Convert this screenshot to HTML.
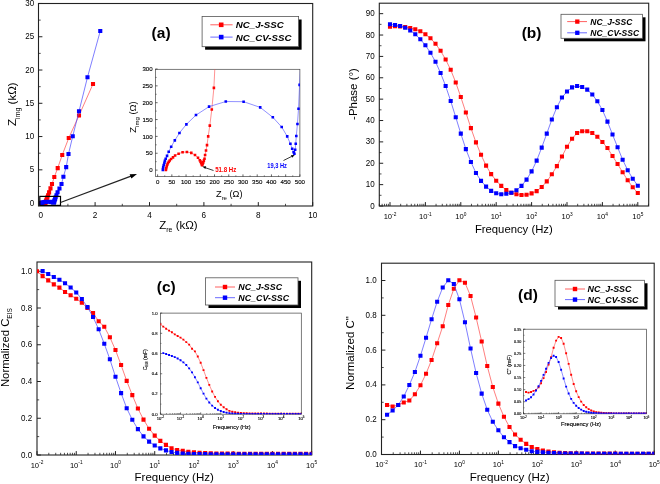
<!DOCTYPE html>
<html><head><meta charset="utf-8"><style>
html,body{margin:0;padding:0;background:#fff;width:660px;height:484px;overflow:hidden}
svg{display:block;will-change:transform}
text{font-family:"Liberation Sans", sans-serif}
.sm text{stroke:#000;stroke-width:0.13}
</style></head><body>
<svg width="660" height="484" viewBox="0 0 660 484" font-family='"Liberation Sans", sans-serif'>
<rect width="660" height="484" fill="#fff"/>
<defs>
<clipPath id="ca"><rect x="38.5" y="3.5" width="274.2" height="202.5"/></clipPath>
<clipPath id="cai"><rect x="155.4" y="69.3" width="144.5" height="107.3"/></clipPath>
<clipPath id="cb"><rect x="379.3" y="3.2" width="269.4" height="202.8"/></clipPath>
<clipPath id="cc"><rect x="37" y="262" width="274.7" height="193"/></clipPath>
<clipPath id="cci"><rect x="160.4" y="313.1" width="140.9" height="101.1"/></clipPath>
<clipPath id="cd"><rect x="381.5" y="263.2" width="272.7" height="191.3"/></clipPath>
<clipPath id="cdi"><rect x="523.5" y="329.2" width="122.9" height="84.6"/></clipPath>
</defs>
<rect x="38.5" y="3.5" width="274.2" height="202.5" fill="none" stroke="#222" stroke-width="1.1"/>
<line x1="38.5" y1="203.1" x2="42.4" y2="203.1" stroke="#222" stroke-width="1"/>
<text transform="translate(34.1,205.6) scale(0.88,1)" font-size="9.1" text-anchor="end" font-weight="normal" font-style="normal" fill="#000" >0</text>
<line x1="38.5" y1="169.83" x2="42.4" y2="169.83" stroke="#222" stroke-width="1"/>
<text transform="translate(34.1,172.33) scale(0.88,1)" font-size="9.1" text-anchor="end" font-weight="normal" font-style="normal" fill="#000" >5</text>
<line x1="38.5" y1="136.56" x2="42.4" y2="136.56" stroke="#222" stroke-width="1"/>
<text transform="translate(34.1,139.06) scale(0.88,1)" font-size="9.1" text-anchor="end" font-weight="normal" font-style="normal" fill="#000" >10</text>
<line x1="38.5" y1="103.29" x2="42.4" y2="103.29" stroke="#222" stroke-width="1"/>
<text transform="translate(34.1,105.79) scale(0.88,1)" font-size="9.1" text-anchor="end" font-weight="normal" font-style="normal" fill="#000" >15</text>
<line x1="38.5" y1="70.02" x2="42.4" y2="70.02" stroke="#222" stroke-width="1"/>
<text transform="translate(34.1,72.52) scale(0.88,1)" font-size="9.1" text-anchor="end" font-weight="normal" font-style="normal" fill="#000" >20</text>
<line x1="38.5" y1="36.75" x2="42.4" y2="36.75" stroke="#222" stroke-width="1"/>
<text transform="translate(34.1,39.25) scale(0.88,1)" font-size="9.1" text-anchor="end" font-weight="normal" font-style="normal" fill="#000" >25</text>
<line x1="38.5" y1="3.48" x2="42.4" y2="3.48" stroke="#222" stroke-width="1"/>
<text transform="translate(34.1,5.98) scale(0.88,1)" font-size="9.1" text-anchor="end" font-weight="normal" font-style="normal" fill="#000" >30</text>
<line x1="38.5" y1="186.47" x2="40.7" y2="186.47" stroke="#222" stroke-width="0.8"/>
<line x1="38.5" y1="153.19" x2="40.7" y2="153.19" stroke="#222" stroke-width="0.8"/>
<line x1="38.5" y1="119.92" x2="40.7" y2="119.92" stroke="#222" stroke-width="0.8"/>
<line x1="38.5" y1="86.66" x2="40.7" y2="86.66" stroke="#222" stroke-width="0.8"/>
<line x1="38.5" y1="53.38" x2="40.7" y2="53.38" stroke="#222" stroke-width="0.8"/>
<line x1="38.5" y1="20.12" x2="40.7" y2="20.12" stroke="#222" stroke-width="0.8"/>
<line x1="40.7" y1="206" x2="40.7" y2="202.1" stroke="#222" stroke-width="1"/>
<text transform="translate(40.7,217.6) scale(0.9,1)" font-size="9.1" text-anchor="middle" font-weight="normal" font-style="normal" fill="#000" >0</text>
<line x1="95.1" y1="206" x2="95.1" y2="202.1" stroke="#222" stroke-width="1"/>
<text transform="translate(95.1,217.6) scale(0.9,1)" font-size="9.1" text-anchor="middle" font-weight="normal" font-style="normal" fill="#000" >2</text>
<line x1="149.5" y1="206" x2="149.5" y2="202.1" stroke="#222" stroke-width="1"/>
<text transform="translate(149.5,217.6) scale(0.9,1)" font-size="9.1" text-anchor="middle" font-weight="normal" font-style="normal" fill="#000" >4</text>
<line x1="203.9" y1="206" x2="203.9" y2="202.1" stroke="#222" stroke-width="1"/>
<text transform="translate(203.9,217.6) scale(0.9,1)" font-size="9.1" text-anchor="middle" font-weight="normal" font-style="normal" fill="#000" >6</text>
<line x1="258.3" y1="206" x2="258.3" y2="202.1" stroke="#222" stroke-width="1"/>
<text transform="translate(258.3,217.6) scale(0.9,1)" font-size="9.1" text-anchor="middle" font-weight="normal" font-style="normal" fill="#000" >8</text>
<line x1="312.7" y1="206" x2="312.7" y2="202.1" stroke="#222" stroke-width="1"/>
<text transform="translate(312.7,217.6) scale(0.9,1)" font-size="9.1" text-anchor="middle" font-weight="normal" font-style="normal" fill="#000" >10</text>
<line x1="67.9" y1="206" x2="67.9" y2="203.8" stroke="#222" stroke-width="0.8"/>
<line x1="122.3" y1="206" x2="122.3" y2="203.8" stroke="#222" stroke-width="0.8"/>
<line x1="176.7" y1="206" x2="176.7" y2="203.8" stroke="#222" stroke-width="0.8"/>
<line x1="231.1" y1="206" x2="231.1" y2="203.8" stroke="#222" stroke-width="0.8"/>
<line x1="285.5" y1="206" x2="285.5" y2="203.8" stroke="#222" stroke-width="0.8"/>
<g clip-path="url(#ca)">
<polyline points="41.49,203.1 41.51,203.08 41.53,203.06 41.58,203.02 41.64,202.99 41.69,202.96 41.77,202.93 41.86,202.91 41.99,202.88 42.17,202.85 42.37,202.81 42.71,202.78 43.09,202.75 43.5,202.74 43.92,202.76 44.27,202.8 44.56,202.86 44.73,202.9 44.81,202.93 44.86,202.96 44.91,202.98 44.95,203 44.98,202.99 45.02,202.97 45.07,202.95 45.12,202.91 45.18,202.88 45.24,202.8 45.33,202.71 45.42,202.61 45.54,202.43 45.69,202.22 45.88,201.9 46.08,201.48 46.22,200.87 46.47,200.04 46.85,198.91 47.39,197.38 48.13,195.25 49.1,192.39 50.49,188.39 51.99,184 54.3,177.02 57.7,168.1 62.24,154.99 68.74,138.02 79,115.53 93.01,83.99" fill="none" stroke="#ff4848" stroke-width="0.7"/>
<path d="M39.44 201.05h4.1v4.1h-4.1zM39.46 201.03h4.1v4.1h-4.1zM39.48 201.01h4.1v4.1h-4.1zM39.53 200.97h4.1v4.1h-4.1zM39.59 200.94h4.1v4.1h-4.1zM39.64 200.91h4.1v4.1h-4.1zM39.72 200.88h4.1v4.1h-4.1zM39.81 200.86h4.1v4.1h-4.1zM39.94 200.83h4.1v4.1h-4.1zM40.12 200.8h4.1v4.1h-4.1zM40.32 200.76h4.1v4.1h-4.1zM40.66 200.73h4.1v4.1h-4.1zM41.04 200.7h4.1v4.1h-4.1zM41.45 200.69h4.1v4.1h-4.1zM41.87 200.71h4.1v4.1h-4.1zM42.22 200.75h4.1v4.1h-4.1zM42.51 200.81h4.1v4.1h-4.1zM42.68 200.85h4.1v4.1h-4.1zM42.76 200.88h4.1v4.1h-4.1zM42.81 200.91h4.1v4.1h-4.1zM42.86 200.93h4.1v4.1h-4.1zM42.9 200.95h4.1v4.1h-4.1zM42.93 200.94h4.1v4.1h-4.1zM42.97 200.92h4.1v4.1h-4.1zM43.02 200.9h4.1v4.1h-4.1zM43.07 200.86h4.1v4.1h-4.1zM43.13 200.83h4.1v4.1h-4.1zM43.19 200.75h4.1v4.1h-4.1zM43.28 200.66h4.1v4.1h-4.1zM43.37 200.56h4.1v4.1h-4.1zM43.49 200.38h4.1v4.1h-4.1zM43.64 200.17h4.1v4.1h-4.1zM43.83 199.85h4.1v4.1h-4.1zM44.03 199.43h4.1v4.1h-4.1zM44.17 198.82h4.1v4.1h-4.1zM44.42 197.99h4.1v4.1h-4.1zM44.8 196.86h4.1v4.1h-4.1zM45.34 195.33h4.1v4.1h-4.1zM46.08 193.2h4.1v4.1h-4.1zM47.05 190.34h4.1v4.1h-4.1zM48.44 186.34h4.1v4.1h-4.1zM49.94 181.95h4.1v4.1h-4.1zM52.25 174.97h4.1v4.1h-4.1zM55.65 166.05h4.1v4.1h-4.1zM60.19 152.94h4.1v4.1h-4.1zM66.69 135.97h4.1v4.1h-4.1zM76.95 113.48h4.1v4.1h-4.1zM90.96 81.94h4.1v4.1h-4.1z" fill="#ff0000"/>
</g>
<g clip-path="url(#ca)">
<polyline points="41.2,203.1 41.21,203.08 41.24,203.04 41.28,203 41.35,202.96 41.4,202.92 41.48,202.88 41.6,202.82 41.76,202.74 42,202.64 42.35,202.51 42.79,202.37 43.45,202.2 44.37,202.01 45.62,201.85 47.22,201.75 48.92,201.75 50.51,201.86 51.71,202.06 52.56,202.25 53.09,202.43 53.39,202.58 53.56,202.68 53.7,202.75 53.78,202.78 53.85,202.7 53.9,202.58 53.96,202.43 54.07,202.19 54.17,201.89 54.27,201.42 54.44,200.8 54.71,199.97 55.12,198.84 55.66,197.31 56.48,195.18 57.56,192.32 59.47,188.46 61.51,184 63.41,176.68 66.19,167.17 68.5,153.99 72.74,136.23 79,111.27 87.48,77.27 100.27,31.03" fill="none" stroke="#4848ff" stroke-width="0.7"/>
<path d="M39.15 201.05h4.1v4.1h-4.1zM39.16 201.03h4.1v4.1h-4.1zM39.19 200.99h4.1v4.1h-4.1zM39.23 200.95h4.1v4.1h-4.1zM39.3 200.91h4.1v4.1h-4.1zM39.35 200.87h4.1v4.1h-4.1zM39.43 200.83h4.1v4.1h-4.1zM39.55 200.77h4.1v4.1h-4.1zM39.71 200.69h4.1v4.1h-4.1zM39.95 200.59h4.1v4.1h-4.1zM40.3 200.46h4.1v4.1h-4.1zM40.74 200.32h4.1v4.1h-4.1zM41.4 200.15h4.1v4.1h-4.1zM42.32 199.96h4.1v4.1h-4.1zM43.57 199.8h4.1v4.1h-4.1zM45.17 199.7h4.1v4.1h-4.1zM46.87 199.7h4.1v4.1h-4.1zM48.46 199.81h4.1v4.1h-4.1zM49.66 200.01h4.1v4.1h-4.1zM50.51 200.2h4.1v4.1h-4.1zM51.04 200.38h4.1v4.1h-4.1zM51.34 200.53h4.1v4.1h-4.1zM51.51 200.63h4.1v4.1h-4.1zM51.65 200.7h4.1v4.1h-4.1zM51.73 200.73h4.1v4.1h-4.1zM51.8 200.65h4.1v4.1h-4.1zM51.85 200.53h4.1v4.1h-4.1zM51.91 200.38h4.1v4.1h-4.1zM52.02 200.14h4.1v4.1h-4.1zM52.12 199.84h4.1v4.1h-4.1zM52.22 199.37h4.1v4.1h-4.1zM52.39 198.75h4.1v4.1h-4.1zM52.66 197.92h4.1v4.1h-4.1zM53.07 196.79h4.1v4.1h-4.1zM53.61 195.26h4.1v4.1h-4.1zM54.43 193.13h4.1v4.1h-4.1zM55.51 190.27h4.1v4.1h-4.1zM57.42 186.41h4.1v4.1h-4.1zM59.46 181.95h4.1v4.1h-4.1zM61.36 174.63h4.1v4.1h-4.1zM64.14 165.12h4.1v4.1h-4.1zM66.45 151.94h4.1v4.1h-4.1zM70.69 134.18h4.1v4.1h-4.1zM76.95 109.22h4.1v4.1h-4.1zM85.43 75.22h4.1v4.1h-4.1zM98.22 28.98h4.1v4.1h-4.1z" fill="#0000ff"/>
</g>
<rect x="39.8" y="196.4" width="20.7" height="9" fill="none" stroke="#000" stroke-width="1.2"/>
<line x1="60.5" y1="202.5" x2="131" y2="176.1" stroke="#222" stroke-width="1.2"/>
<path d="M137 173.9 L129.6 174.2 L131.4 178.6 Z" fill="#000"/>
<text transform="translate(15.8,104.2) rotate(-90)" font-size="11.5" text-anchor="middle">Z<tspan font-size="7" dy="3.8">img</tspan><tspan dy="-3.8"> (k&#937;)</tspan></text>
<text x="159.2" y="228.6" font-size="11.5">Z<tspan font-size="7" dy="3.8">re</tspan><tspan dy="-3.8"> (k&#937;)</tspan></text>
<text x="161.1" y="38.2" font-size="15.5" text-anchor="middle" font-weight="bold" font-style="normal" fill="#000" >(a)</text>
<rect x="205.1" y="19.5" width="96.5" height="30.2" fill="#000"/>
<rect x="202.1" y="16.5" width="96.5" height="30.2" fill="#fff" stroke="#555" stroke-width="0.8"/>
<line x1="210.3" y1="24.8" x2="232.6" y2="24.8" stroke="#ff6060" stroke-width="1"/>
<rect x="218.9" y="22.5" width="4.6" height="4.6" fill="#f00"/>
<text x="235.8" y="28.29" font-size="9.7" font-weight="bold" font-style="italic">NC_J-SSC</text>
<line x1="210.3" y1="37.1" x2="232.6" y2="37.1" stroke="#6a6aff" stroke-width="1"/>
<rect x="218.9" y="34.8" width="4.6" height="4.6" fill="#00f"/>
<text x="235.8" y="40.59" font-size="9.7" font-weight="bold" font-style="italic">NC_CV-SSC</text>
<rect x="155.4" y="69.3" width="144.50" height="107.30" fill="#fff" stroke="#444" stroke-width="0.7"/>
<g class="sm">
<line x1="155.4" y1="170.1" x2="157.6" y2="170.1" stroke="#222" stroke-width="0.7"/>
<text x="152.6" y="172.3" font-size="6.1" text-anchor="end" font-weight="normal" font-style="normal" fill="#000" >0</text>
<line x1="155.4" y1="153.25" x2="157.6" y2="153.25" stroke="#222" stroke-width="0.7"/>
<text x="152.6" y="155.45" font-size="6.1" text-anchor="end" font-weight="normal" font-style="normal" fill="#000" >50</text>
<line x1="155.4" y1="136.4" x2="157.6" y2="136.4" stroke="#222" stroke-width="0.7"/>
<text x="152.6" y="138.6" font-size="6.1" text-anchor="end" font-weight="normal" font-style="normal" fill="#000" >100</text>
<line x1="155.4" y1="119.55" x2="157.6" y2="119.55" stroke="#222" stroke-width="0.7"/>
<text x="152.6" y="121.75" font-size="6.1" text-anchor="end" font-weight="normal" font-style="normal" fill="#000" >150</text>
<line x1="155.4" y1="102.7" x2="157.6" y2="102.7" stroke="#222" stroke-width="0.7"/>
<text x="152.6" y="104.9" font-size="6.1" text-anchor="end" font-weight="normal" font-style="normal" fill="#000" >200</text>
<line x1="155.4" y1="85.85" x2="157.6" y2="85.85" stroke="#222" stroke-width="0.7"/>
<text x="152.6" y="88.05" font-size="6.1" text-anchor="end" font-weight="normal" font-style="normal" fill="#000" >250</text>
<line x1="155.4" y1="69" x2="157.6" y2="69" stroke="#222" stroke-width="0.7"/>
<text x="152.6" y="71.2" font-size="6.1" text-anchor="end" font-weight="normal" font-style="normal" fill="#000" >300</text>
<line x1="155.4" y1="161.67" x2="156.7" y2="161.67" stroke="#222" stroke-width="0.5599999999999999"/>
<line x1="155.4" y1="144.82" x2="156.7" y2="144.82" stroke="#222" stroke-width="0.5599999999999999"/>
<line x1="155.4" y1="127.97" x2="156.7" y2="127.97" stroke="#222" stroke-width="0.5599999999999999"/>
<line x1="155.4" y1="111.12" x2="156.7" y2="111.12" stroke="#222" stroke-width="0.5599999999999999"/>
<line x1="155.4" y1="94.27" x2="156.7" y2="94.27" stroke="#222" stroke-width="0.5599999999999999"/>
<line x1="155.4" y1="77.42" x2="156.7" y2="77.42" stroke="#222" stroke-width="0.5599999999999999"/>
<line x1="157.6" y1="176.6" x2="157.6" y2="174.4" stroke="#222" stroke-width="0.7"/>
<text x="157.6" y="184.1" font-size="6.1" text-anchor="middle" font-weight="normal" font-style="normal" fill="#000" >0</text>
<line x1="171.83" y1="176.6" x2="171.83" y2="174.4" stroke="#222" stroke-width="0.7"/>
<text x="171.83" y="184.1" font-size="6.1" text-anchor="middle" font-weight="normal" font-style="normal" fill="#000" >50</text>
<line x1="186.06" y1="176.6" x2="186.06" y2="174.4" stroke="#222" stroke-width="0.7"/>
<text x="186.06" y="184.1" font-size="6.1" text-anchor="middle" font-weight="normal" font-style="normal" fill="#000" >100</text>
<line x1="200.29" y1="176.6" x2="200.29" y2="174.4" stroke="#222" stroke-width="0.7"/>
<text x="200.29" y="184.1" font-size="6.1" text-anchor="middle" font-weight="normal" font-style="normal" fill="#000" >150</text>
<line x1="214.52" y1="176.6" x2="214.52" y2="174.4" stroke="#222" stroke-width="0.7"/>
<text x="214.52" y="184.1" font-size="6.1" text-anchor="middle" font-weight="normal" font-style="normal" fill="#000" >200</text>
<line x1="228.75" y1="176.6" x2="228.75" y2="174.4" stroke="#222" stroke-width="0.7"/>
<text x="228.75" y="184.1" font-size="6.1" text-anchor="middle" font-weight="normal" font-style="normal" fill="#000" >250</text>
<line x1="242.98" y1="176.6" x2="242.98" y2="174.4" stroke="#222" stroke-width="0.7"/>
<text x="242.98" y="184.1" font-size="6.1" text-anchor="middle" font-weight="normal" font-style="normal" fill="#000" >300</text>
<line x1="257.21" y1="176.6" x2="257.21" y2="174.4" stroke="#222" stroke-width="0.7"/>
<text x="257.21" y="184.1" font-size="6.1" text-anchor="middle" font-weight="normal" font-style="normal" fill="#000" >350</text>
<line x1="271.44" y1="176.6" x2="271.44" y2="174.4" stroke="#222" stroke-width="0.7"/>
<text x="271.44" y="184.1" font-size="6.1" text-anchor="middle" font-weight="normal" font-style="normal" fill="#000" >400</text>
<line x1="285.67" y1="176.6" x2="285.67" y2="174.4" stroke="#222" stroke-width="0.7"/>
<text x="285.67" y="184.1" font-size="6.1" text-anchor="middle" font-weight="normal" font-style="normal" fill="#000" >450</text>
<line x1="299.9" y1="176.6" x2="299.9" y2="174.4" stroke="#222" stroke-width="0.7"/>
<text x="299.9" y="184.1" font-size="6.1" text-anchor="middle" font-weight="normal" font-style="normal" fill="#000" >500</text>
<line x1="164.72" y1="176.6" x2="164.72" y2="175.3" stroke="#222" stroke-width="0.5599999999999999"/>
<line x1="178.94" y1="176.6" x2="178.94" y2="175.3" stroke="#222" stroke-width="0.5599999999999999"/>
<line x1="193.18" y1="176.6" x2="193.18" y2="175.3" stroke="#222" stroke-width="0.5599999999999999"/>
<line x1="207.41" y1="176.6" x2="207.41" y2="175.3" stroke="#222" stroke-width="0.5599999999999999"/>
<line x1="221.63" y1="176.6" x2="221.63" y2="175.3" stroke="#222" stroke-width="0.5599999999999999"/>
<line x1="235.87" y1="176.6" x2="235.87" y2="175.3" stroke="#222" stroke-width="0.5599999999999999"/>
<line x1="250.09" y1="176.6" x2="250.09" y2="175.3" stroke="#222" stroke-width="0.5599999999999999"/>
<line x1="264.32" y1="176.6" x2="264.32" y2="175.3" stroke="#222" stroke-width="0.5599999999999999"/>
<line x1="278.56" y1="176.6" x2="278.56" y2="175.3" stroke="#222" stroke-width="0.5599999999999999"/>
<line x1="292.78" y1="176.6" x2="292.78" y2="175.3" stroke="#222" stroke-width="0.5599999999999999"/>
</g>
<g clip-path="url(#cai)">
<polyline points="165.85,170 166.02,169.09 166.31,168.01 166.79,166.09 167.39,164.51 167.99,162.99 168.81,161.71 169.7,160.5 171.09,158.98 173,157.4 175.1,155.51 178.6,153.69 182.59,152.24 186.91,151.97 191.3,152.91 195,155 198.01,157.7 199.81,160.19 200.57,161.67 201.14,163.02 201.66,164.2 202.05,165.21 202.4,164.54 202.79,163.53 203.28,162.35 203.85,160.66 204.5,158.81 205.1,154.94 206.01,150.49 207.01,145.16 208.2,136.4 209.8,125.62 211.79,109.44 213.89,87.91 215.37,57.2 217.94,15.08 221.92,-42.21 227.61,-119.72 235.3,-227.56 245.54,-372.47 260.06,-574.67 275.71,-797.09 299.9,-1150.94 335.48,-1602.52 383,-2266.41 451.02,-3125.76 558.32,-4264.82 704.89,-5862.2" fill="none" stroke="#ff4848" stroke-width="0.6"/>
<path d="M164.55 168.7h2.6v2.6h-2.6zM164.72 167.79h2.6v2.6h-2.6zM165.01 166.71h2.6v2.6h-2.6zM165.49 164.79h2.6v2.6h-2.6zM166.09 163.21h2.6v2.6h-2.6zM166.69 161.69h2.6v2.6h-2.6zM167.51 160.41h2.6v2.6h-2.6zM168.4 159.2h2.6v2.6h-2.6zM169.79 157.68h2.6v2.6h-2.6zM171.7 156.1h2.6v2.6h-2.6zM173.8 154.21h2.6v2.6h-2.6zM177.3 152.39h2.6v2.6h-2.6zM181.29 150.94h2.6v2.6h-2.6zM185.61 150.67h2.6v2.6h-2.6zM190 151.61h2.6v2.6h-2.6zM193.7 153.7h2.6v2.6h-2.6zM196.71 156.4h2.6v2.6h-2.6zM198.51 158.89h2.6v2.6h-2.6zM199.27 160.37h2.6v2.6h-2.6zM199.84 161.72h2.6v2.6h-2.6zM200.36 162.9h2.6v2.6h-2.6zM200.75 163.91h2.6v2.6h-2.6zM201.1 163.24h2.6v2.6h-2.6zM201.49 162.23h2.6v2.6h-2.6zM201.98 161.05h2.6v2.6h-2.6zM202.55 159.36h2.6v2.6h-2.6zM203.2 157.51h2.6v2.6h-2.6zM203.8 153.63h2.6v2.6h-2.6zM204.71 149.19h2.6v2.6h-2.6zM205.71 143.86h2.6v2.6h-2.6zM206.9 135.1h2.6v2.6h-2.6zM208.5 124.32h2.6v2.6h-2.6zM210.49 108.14h2.6v2.6h-2.6zM212.59 86.61h2.6v2.6h-2.6zM214.07 55.9h2.6v2.6h-2.6zM216.64 13.78h2.6v2.6h-2.6zM220.62 -43.51h2.6v2.6h-2.6zM226.31 -121.02h2.6v2.6h-2.6zM234 -228.86h2.6v2.6h-2.6zM244.24 -373.77h2.6v2.6h-2.6zM258.76 -575.97h2.6v2.6h-2.6zM274.41 -798.39h2.6v2.6h-2.6zM298.6 -1152.24h2.6v2.6h-2.6zM334.18 -1603.82h2.6v2.6h-2.6zM381.7 -2267.71h2.6v2.6h-2.6zM449.72 -3127.06h2.6v2.6h-2.6zM557.02 -4266.12h2.6v2.6h-2.6zM703.59 -5863.5h2.6v2.6h-2.6z" fill="#ff0000"/>
</g>
<g clip-path="url(#cai)">
<polyline points="162.84,169.93 162.89,169.16 163.24,167 163.72,165.01 164.4,162.85 164.89,160.9 165.71,158.74 167.05,155.91 168.7,151.8 171.18,146.81 174.82,140.38 179.46,132.93 186.4,124.34 195.99,115.07 209.08,106.61 225.79,101.52 243.61,101.69 260.2,107.38 272.81,117.29 281.71,127 287.21,136.4 290.39,143.81 292.19,148.8 293.61,152.21 294.41,153.69 295.15,149.68 295.74,143.68 296.31,136.06 297.45,124 298.53,108.77 299.59,84.84 301.32,53.83 304.17,11.71 308.44,-45.58 314.13,-123.09 322.67,-230.93 334.05,-375.84 353.97,-571.3 375.32,-797.09 395.24,-1167.79 424.27,-1649.7 448.46,-2316.96 492.86,-3216.75 558.32,-4480.5 647.11,-6202.57 780.87,-8544.72" fill="none" stroke="#4848ff" stroke-width="0.6"/>
<path d="M161.54 168.63h2.6v2.6h-2.6zM161.59 167.86h2.6v2.6h-2.6zM161.94 165.7h2.6v2.6h-2.6zM162.42 163.71h2.6v2.6h-2.6zM163.1 161.55h2.6v2.6h-2.6zM163.59 159.6h2.6v2.6h-2.6zM164.41 157.44h2.6v2.6h-2.6zM165.75 154.61h2.6v2.6h-2.6zM167.4 150.5h2.6v2.6h-2.6zM169.88 145.51h2.6v2.6h-2.6zM173.52 139.08h2.6v2.6h-2.6zM178.16 131.63h2.6v2.6h-2.6zM185.1 123.04h2.6v2.6h-2.6zM194.69 113.77h2.6v2.6h-2.6zM207.78 105.31h2.6v2.6h-2.6zM224.49 100.22h2.6v2.6h-2.6zM242.31 100.39h2.6v2.6h-2.6zM258.9 106.08h2.6v2.6h-2.6zM271.51 115.99h2.6v2.6h-2.6zM280.41 125.7h2.6v2.6h-2.6zM285.91 135.1h2.6v2.6h-2.6zM289.09 142.51h2.6v2.6h-2.6zM290.89 147.5h2.6v2.6h-2.6zM292.31 150.91h2.6v2.6h-2.6zM293.11 152.39h2.6v2.6h-2.6zM293.85 148.38h2.6v2.6h-2.6zM294.44 142.38h2.6v2.6h-2.6zM295.01 134.76h2.6v2.6h-2.6zM296.15 122.7h2.6v2.6h-2.6zM297.23 107.47h2.6v2.6h-2.6zM298.29 83.54h2.6v2.6h-2.6zM300.02 52.53h2.6v2.6h-2.6zM302.87 10.41h2.6v2.6h-2.6zM307.14 -46.88h2.6v2.6h-2.6zM312.83 -124.39h2.6v2.6h-2.6zM321.37 -232.23h2.6v2.6h-2.6zM332.75 -377.14h2.6v2.6h-2.6zM352.67 -572.6h2.6v2.6h-2.6zM374.02 -798.39h2.6v2.6h-2.6zM393.94 -1169.09h2.6v2.6h-2.6zM422.97 -1651h2.6v2.6h-2.6zM447.16 -2318.26h2.6v2.6h-2.6zM491.56 -3218.05h2.6v2.6h-2.6zM557.02 -4481.8h2.6v2.6h-2.6zM645.81 -6203.87h2.6v2.6h-2.6zM779.57 -8546.02h2.6v2.6h-2.6z" fill="#0000ff"/>
</g>
<text transform="translate(135.6,117) rotate(-90)" font-size="9.4" text-anchor="middle">Z<tspan font-size="6" dy="3">img</tspan><tspan dy="-3"> (&#937;)</tspan></text>
<text x="216" y="196.5" font-size="9.2">Z<tspan font-size="6" dy="3">re</tspan><tspan dy="-3"> (&#937;)</tspan></text>
<text transform="translate(215.2,172.2) scale(0.9,1)" font-size="6.8" text-anchor="start" font-weight="bold" font-style="normal" fill="#ff0000" >51.8 Hz</text>
<text transform="translate(267.3,167.6) scale(0.86,1)" font-size="6.6" text-anchor="start" font-weight="bold" font-style="normal" fill="#0000ff" >19,3 Hz</text>
<line x1="213.5" y1="170.5" x2="205" y2="167.6" stroke="#222" stroke-width="0.9"/>
<path d="M202.3 166.6 L206.2 166.2 L205.3 168.9 Z" fill="#000"/>
<line x1="283.5" y1="160.5" x2="291.5" y2="156.5" stroke="#222" stroke-width="0.9"/>
<path d="M294.8 154.9 L290.8 155.2 L292.1 157.8 Z" fill="#000"/>
<rect x="379.3" y="3.2" width="269.4" height="202.8" fill="none" stroke="#222" stroke-width="1.1"/>
<line x1="379.3" y1="206" x2="383.2" y2="206" stroke="#222" stroke-width="1"/>
<text transform="translate(374.6,208.5) scale(0.88,1)" font-size="9.1" text-anchor="end" font-weight="normal" font-style="normal" fill="#000" >0</text>
<line x1="379.3" y1="184.63" x2="383.2" y2="184.63" stroke="#222" stroke-width="1"/>
<text transform="translate(374.6,187.13) scale(0.88,1)" font-size="9.1" text-anchor="end" font-weight="normal" font-style="normal" fill="#000" >10</text>
<line x1="379.3" y1="163.26" x2="383.2" y2="163.26" stroke="#222" stroke-width="1"/>
<text transform="translate(374.6,165.76) scale(0.88,1)" font-size="9.1" text-anchor="end" font-weight="normal" font-style="normal" fill="#000" >20</text>
<line x1="379.3" y1="141.89" x2="383.2" y2="141.89" stroke="#222" stroke-width="1"/>
<text transform="translate(374.6,144.39) scale(0.88,1)" font-size="9.1" text-anchor="end" font-weight="normal" font-style="normal" fill="#000" >30</text>
<line x1="379.3" y1="120.52" x2="383.2" y2="120.52" stroke="#222" stroke-width="1"/>
<text transform="translate(374.6,123.02) scale(0.88,1)" font-size="9.1" text-anchor="end" font-weight="normal" font-style="normal" fill="#000" >40</text>
<line x1="379.3" y1="99.15" x2="383.2" y2="99.15" stroke="#222" stroke-width="1"/>
<text transform="translate(374.6,101.65) scale(0.88,1)" font-size="9.1" text-anchor="end" font-weight="normal" font-style="normal" fill="#000" >50</text>
<line x1="379.3" y1="77.78" x2="383.2" y2="77.78" stroke="#222" stroke-width="1"/>
<text transform="translate(374.6,80.28) scale(0.88,1)" font-size="9.1" text-anchor="end" font-weight="normal" font-style="normal" fill="#000" >60</text>
<line x1="379.3" y1="56.41" x2="383.2" y2="56.41" stroke="#222" stroke-width="1"/>
<text transform="translate(374.6,58.91) scale(0.88,1)" font-size="9.1" text-anchor="end" font-weight="normal" font-style="normal" fill="#000" >70</text>
<line x1="379.3" y1="35.04" x2="383.2" y2="35.04" stroke="#222" stroke-width="1"/>
<text transform="translate(374.6,37.54) scale(0.88,1)" font-size="9.1" text-anchor="end" font-weight="normal" font-style="normal" fill="#000" >80</text>
<line x1="379.3" y1="13.67" x2="383.2" y2="13.67" stroke="#222" stroke-width="1"/>
<text transform="translate(374.6,16.17) scale(0.88,1)" font-size="9.1" text-anchor="end" font-weight="normal" font-style="normal" fill="#000" >90</text>
<line x1="379.3" y1="195.31" x2="381.5" y2="195.31" stroke="#222" stroke-width="0.8"/>
<line x1="379.3" y1="173.94" x2="381.5" y2="173.94" stroke="#222" stroke-width="0.8"/>
<line x1="379.3" y1="152.57" x2="381.5" y2="152.57" stroke="#222" stroke-width="0.8"/>
<line x1="379.3" y1="131.2" x2="381.5" y2="131.2" stroke="#222" stroke-width="0.8"/>
<line x1="379.3" y1="109.83" x2="381.5" y2="109.83" stroke="#222" stroke-width="0.8"/>
<line x1="379.3" y1="88.47" x2="381.5" y2="88.47" stroke="#222" stroke-width="0.8"/>
<line x1="379.3" y1="67.09" x2="381.5" y2="67.09" stroke="#222" stroke-width="0.8"/>
<line x1="379.3" y1="45.72" x2="381.5" y2="45.72" stroke="#222" stroke-width="0.8"/>
<line x1="379.3" y1="24.35" x2="381.5" y2="24.35" stroke="#222" stroke-width="0.8"/>
<line x1="379.34" y1="206" x2="379.34" y2="203.8" stroke="#222" stroke-width="0.8"/>
<line x1="382.15" y1="206" x2="382.15" y2="203.8" stroke="#222" stroke-width="0.8"/>
<line x1="384.52" y1="206" x2="384.52" y2="203.8" stroke="#222" stroke-width="0.8"/>
<line x1="386.57" y1="206" x2="386.57" y2="203.8" stroke="#222" stroke-width="0.8"/>
<line x1="388.38" y1="206" x2="388.38" y2="203.8" stroke="#222" stroke-width="0.8"/>
<line x1="390" y1="206" x2="390" y2="202.1" stroke="#222" stroke-width="1"/>
<line x1="400.66" y1="206" x2="400.66" y2="203.8" stroke="#222" stroke-width="0.8"/>
<line x1="406.89" y1="206" x2="406.89" y2="203.8" stroke="#222" stroke-width="0.8"/>
<line x1="411.31" y1="206" x2="411.31" y2="203.8" stroke="#222" stroke-width="0.8"/>
<line x1="414.74" y1="206" x2="414.74" y2="203.8" stroke="#222" stroke-width="0.8"/>
<line x1="417.55" y1="206" x2="417.55" y2="203.8" stroke="#222" stroke-width="0.8"/>
<line x1="419.92" y1="206" x2="419.92" y2="203.8" stroke="#222" stroke-width="0.8"/>
<line x1="421.97" y1="206" x2="421.97" y2="203.8" stroke="#222" stroke-width="0.8"/>
<line x1="423.78" y1="206" x2="423.78" y2="203.8" stroke="#222" stroke-width="0.8"/>
<line x1="425.4" y1="206" x2="425.4" y2="202.1" stroke="#222" stroke-width="1"/>
<line x1="436.06" y1="206" x2="436.06" y2="203.8" stroke="#222" stroke-width="0.8"/>
<line x1="442.29" y1="206" x2="442.29" y2="203.8" stroke="#222" stroke-width="0.8"/>
<line x1="446.71" y1="206" x2="446.71" y2="203.8" stroke="#222" stroke-width="0.8"/>
<line x1="450.14" y1="206" x2="450.14" y2="203.8" stroke="#222" stroke-width="0.8"/>
<line x1="452.95" y1="206" x2="452.95" y2="203.8" stroke="#222" stroke-width="0.8"/>
<line x1="455.32" y1="206" x2="455.32" y2="203.8" stroke="#222" stroke-width="0.8"/>
<line x1="457.37" y1="206" x2="457.37" y2="203.8" stroke="#222" stroke-width="0.8"/>
<line x1="459.18" y1="206" x2="459.18" y2="203.8" stroke="#222" stroke-width="0.8"/>
<line x1="460.8" y1="206" x2="460.8" y2="202.1" stroke="#222" stroke-width="1"/>
<line x1="471.46" y1="206" x2="471.46" y2="203.8" stroke="#222" stroke-width="0.8"/>
<line x1="477.69" y1="206" x2="477.69" y2="203.8" stroke="#222" stroke-width="0.8"/>
<line x1="482.11" y1="206" x2="482.11" y2="203.8" stroke="#222" stroke-width="0.8"/>
<line x1="485.54" y1="206" x2="485.54" y2="203.8" stroke="#222" stroke-width="0.8"/>
<line x1="488.35" y1="206" x2="488.35" y2="203.8" stroke="#222" stroke-width="0.8"/>
<line x1="490.72" y1="206" x2="490.72" y2="203.8" stroke="#222" stroke-width="0.8"/>
<line x1="492.77" y1="206" x2="492.77" y2="203.8" stroke="#222" stroke-width="0.8"/>
<line x1="494.58" y1="206" x2="494.58" y2="203.8" stroke="#222" stroke-width="0.8"/>
<line x1="496.2" y1="206" x2="496.2" y2="202.1" stroke="#222" stroke-width="1"/>
<line x1="506.86" y1="206" x2="506.86" y2="203.8" stroke="#222" stroke-width="0.8"/>
<line x1="513.09" y1="206" x2="513.09" y2="203.8" stroke="#222" stroke-width="0.8"/>
<line x1="517.51" y1="206" x2="517.51" y2="203.8" stroke="#222" stroke-width="0.8"/>
<line x1="520.94" y1="206" x2="520.94" y2="203.8" stroke="#222" stroke-width="0.8"/>
<line x1="523.75" y1="206" x2="523.75" y2="203.8" stroke="#222" stroke-width="0.8"/>
<line x1="526.12" y1="206" x2="526.12" y2="203.8" stroke="#222" stroke-width="0.8"/>
<line x1="528.17" y1="206" x2="528.17" y2="203.8" stroke="#222" stroke-width="0.8"/>
<line x1="529.98" y1="206" x2="529.98" y2="203.8" stroke="#222" stroke-width="0.8"/>
<line x1="531.6" y1="206" x2="531.6" y2="202.1" stroke="#222" stroke-width="1"/>
<line x1="542.26" y1="206" x2="542.26" y2="203.8" stroke="#222" stroke-width="0.8"/>
<line x1="548.49" y1="206" x2="548.49" y2="203.8" stroke="#222" stroke-width="0.8"/>
<line x1="552.91" y1="206" x2="552.91" y2="203.8" stroke="#222" stroke-width="0.8"/>
<line x1="556.34" y1="206" x2="556.34" y2="203.8" stroke="#222" stroke-width="0.8"/>
<line x1="559.15" y1="206" x2="559.15" y2="203.8" stroke="#222" stroke-width="0.8"/>
<line x1="561.52" y1="206" x2="561.52" y2="203.8" stroke="#222" stroke-width="0.8"/>
<line x1="563.57" y1="206" x2="563.57" y2="203.8" stroke="#222" stroke-width="0.8"/>
<line x1="565.38" y1="206" x2="565.38" y2="203.8" stroke="#222" stroke-width="0.8"/>
<line x1="567" y1="206" x2="567" y2="202.1" stroke="#222" stroke-width="1"/>
<line x1="577.66" y1="206" x2="577.66" y2="203.8" stroke="#222" stroke-width="0.8"/>
<line x1="583.89" y1="206" x2="583.89" y2="203.8" stroke="#222" stroke-width="0.8"/>
<line x1="588.31" y1="206" x2="588.31" y2="203.8" stroke="#222" stroke-width="0.8"/>
<line x1="591.74" y1="206" x2="591.74" y2="203.8" stroke="#222" stroke-width="0.8"/>
<line x1="594.55" y1="206" x2="594.55" y2="203.8" stroke="#222" stroke-width="0.8"/>
<line x1="596.92" y1="206" x2="596.92" y2="203.8" stroke="#222" stroke-width="0.8"/>
<line x1="598.97" y1="206" x2="598.97" y2="203.8" stroke="#222" stroke-width="0.8"/>
<line x1="600.78" y1="206" x2="600.78" y2="203.8" stroke="#222" stroke-width="0.8"/>
<line x1="602.4" y1="206" x2="602.4" y2="202.1" stroke="#222" stroke-width="1"/>
<line x1="613.06" y1="206" x2="613.06" y2="203.8" stroke="#222" stroke-width="0.8"/>
<line x1="619.29" y1="206" x2="619.29" y2="203.8" stroke="#222" stroke-width="0.8"/>
<line x1="623.71" y1="206" x2="623.71" y2="203.8" stroke="#222" stroke-width="0.8"/>
<line x1="627.14" y1="206" x2="627.14" y2="203.8" stroke="#222" stroke-width="0.8"/>
<line x1="629.95" y1="206" x2="629.95" y2="203.8" stroke="#222" stroke-width="0.8"/>
<line x1="632.32" y1="206" x2="632.32" y2="203.8" stroke="#222" stroke-width="0.8"/>
<line x1="634.37" y1="206" x2="634.37" y2="203.8" stroke="#222" stroke-width="0.8"/>
<line x1="636.18" y1="206" x2="636.18" y2="203.8" stroke="#222" stroke-width="0.8"/>
<line x1="637.8" y1="206" x2="637.8" y2="202.1" stroke="#222" stroke-width="1"/>
<line x1="648.46" y1="206" x2="648.46" y2="203.8" stroke="#222" stroke-width="0.8"/>
<text x="390" y="219.2" font-size="7.6" text-anchor="middle">10<tspan font-size="4.8" dy="-3.42">-2</tspan></text>
<text x="425.4" y="219.2" font-size="7.6" text-anchor="middle">10<tspan font-size="4.8" dy="-3.42">-1</tspan></text>
<text x="460.8" y="219.2" font-size="7.6" text-anchor="middle">10<tspan font-size="4.8" dy="-3.42">0</tspan></text>
<text x="496.2" y="219.2" font-size="7.6" text-anchor="middle">10<tspan font-size="4.8" dy="-3.42">1</tspan></text>
<text x="531.6" y="219.2" font-size="7.6" text-anchor="middle">10<tspan font-size="4.8" dy="-3.42">2</tspan></text>
<text x="567" y="219.2" font-size="7.6" text-anchor="middle">10<tspan font-size="4.8" dy="-3.42">3</tspan></text>
<text x="602.4" y="219.2" font-size="7.6" text-anchor="middle">10<tspan font-size="4.8" dy="-3.42">4</tspan></text>
<text x="637.8" y="219.2" font-size="7.6" text-anchor="middle">10<tspan font-size="4.8" dy="-3.42">5</tspan></text>
<g clip-path="url(#cb)">
<polyline points="390,26.75 395.06,26.25 400.11,26.5 405.17,27 410.23,28 415.29,29.25 420.34,31.25 425.4,34.25 430.46,38.25 435.51,43.75 440.57,50.75 445.63,59.5 450.69,69.75 455.74,82.5 460.8,97 465.86,112.5 470.91,128.1 475.97,142.4 481.03,154.8 486.09,165.6 491.14,174.1 496.2,180.7 501.26,185.9 506.31,190 511.37,192.7 516.43,194.3 521.49,195 526.54,194.8 531.6,193.4 536.66,191.1 541.71,187 546.77,181.4 551.83,174.3 556.89,166.1 561.94,156.5 567,146.75 572.06,138.75 577.11,133 582.17,131.25 587.23,131.25 592.29,133 597.34,136.75 602.4,142 607.46,148 612.51,156 617.57,164 622.63,172.25 627.69,180.25 632.74,187.25 637.8,193" fill="none" stroke="#ff4848" stroke-width="0.7"/>
<path d="M387.95 24.7h4.1v4.1h-4.1zM393.01 24.2h4.1v4.1h-4.1zM398.06 24.45h4.1v4.1h-4.1zM403.12 24.95h4.1v4.1h-4.1zM408.18 25.95h4.1v4.1h-4.1zM413.24 27.2h4.1v4.1h-4.1zM418.29 29.2h4.1v4.1h-4.1zM423.35 32.2h4.1v4.1h-4.1zM428.41 36.2h4.1v4.1h-4.1zM433.46 41.7h4.1v4.1h-4.1zM438.52 48.7h4.1v4.1h-4.1zM443.58 57.45h4.1v4.1h-4.1zM448.64 67.7h4.1v4.1h-4.1zM453.69 80.45h4.1v4.1h-4.1zM458.75 94.95h4.1v4.1h-4.1zM463.81 110.45h4.1v4.1h-4.1zM468.86 126.05h4.1v4.1h-4.1zM473.92 140.35h4.1v4.1h-4.1zM478.98 152.75h4.1v4.1h-4.1zM484.04 163.55h4.1v4.1h-4.1zM489.09 172.05h4.1v4.1h-4.1zM494.15 178.65h4.1v4.1h-4.1zM499.21 183.85h4.1v4.1h-4.1zM504.26 187.95h4.1v4.1h-4.1zM509.32 190.65h4.1v4.1h-4.1zM514.38 192.25h4.1v4.1h-4.1zM519.44 192.95h4.1v4.1h-4.1zM524.49 192.75h4.1v4.1h-4.1zM529.55 191.35h4.1v4.1h-4.1zM534.61 189.05h4.1v4.1h-4.1zM539.66 184.95h4.1v4.1h-4.1zM544.72 179.35h4.1v4.1h-4.1zM549.78 172.25h4.1v4.1h-4.1zM554.84 164.05h4.1v4.1h-4.1zM559.89 154.45h4.1v4.1h-4.1zM564.95 144.7h4.1v4.1h-4.1zM570.01 136.7h4.1v4.1h-4.1zM575.06 130.95h4.1v4.1h-4.1zM580.12 129.2h4.1v4.1h-4.1zM585.18 129.2h4.1v4.1h-4.1zM590.24 130.95h4.1v4.1h-4.1zM595.29 134.7h4.1v4.1h-4.1zM600.35 139.95h4.1v4.1h-4.1zM605.41 145.95h4.1v4.1h-4.1zM610.46 153.95h4.1v4.1h-4.1zM615.52 161.95h4.1v4.1h-4.1zM620.58 170.2h4.1v4.1h-4.1zM625.64 178.2h4.1v4.1h-4.1zM630.69 185.2h4.1v4.1h-4.1zM635.75 190.95h4.1v4.1h-4.1z" fill="#ff0000"/>
</g>
<g clip-path="url(#cb)">
<polyline points="390,24.25 395.06,25 400.11,26 405.17,27.75 410.23,30.5 415.29,34.25 420.34,39.25 425.4,45.25 430.46,52.75 435.51,61.75 440.57,73 445.63,86 450.69,101 455.74,117.2 460.8,133.6 465.86,149.1 470.91,162 475.97,173 481.03,180.9 486.09,186.6 491.14,190.9 496.2,193.3 501.26,194.2 506.31,193.8 511.37,192.7 516.43,190.3 521.49,185.9 526.54,179.6 531.6,171.4 536.66,160.6 541.71,147.6 546.77,133.6 551.83,119.5 556.89,107.2 561.94,97.5 567,91.5 572.06,87.4 577.11,86 582.17,87 587.23,89.6 592.29,94.5 597.34,101.2 602.4,110 607.46,121.6 612.51,134.5 617.57,147.2 622.63,159.7 627.69,170.2 632.74,178.7 637.8,185.7" fill="none" stroke="#4848ff" stroke-width="0.7"/>
<path d="M387.95 22.2h4.1v4.1h-4.1zM393.01 22.95h4.1v4.1h-4.1zM398.06 23.95h4.1v4.1h-4.1zM403.12 25.7h4.1v4.1h-4.1zM408.18 28.45h4.1v4.1h-4.1zM413.24 32.2h4.1v4.1h-4.1zM418.29 37.2h4.1v4.1h-4.1zM423.35 43.2h4.1v4.1h-4.1zM428.41 50.7h4.1v4.1h-4.1zM433.46 59.7h4.1v4.1h-4.1zM438.52 70.95h4.1v4.1h-4.1zM443.58 83.95h4.1v4.1h-4.1zM448.64 98.95h4.1v4.1h-4.1zM453.69 115.15h4.1v4.1h-4.1zM458.75 131.55h4.1v4.1h-4.1zM463.81 147.05h4.1v4.1h-4.1zM468.86 159.95h4.1v4.1h-4.1zM473.92 170.95h4.1v4.1h-4.1zM478.98 178.85h4.1v4.1h-4.1zM484.04 184.55h4.1v4.1h-4.1zM489.09 188.85h4.1v4.1h-4.1zM494.15 191.25h4.1v4.1h-4.1zM499.21 192.15h4.1v4.1h-4.1zM504.26 191.75h4.1v4.1h-4.1zM509.32 190.65h4.1v4.1h-4.1zM514.38 188.25h4.1v4.1h-4.1zM519.44 183.85h4.1v4.1h-4.1zM524.49 177.55h4.1v4.1h-4.1zM529.55 169.35h4.1v4.1h-4.1zM534.61 158.55h4.1v4.1h-4.1zM539.66 145.55h4.1v4.1h-4.1zM544.72 131.55h4.1v4.1h-4.1zM549.78 117.45h4.1v4.1h-4.1zM554.84 105.15h4.1v4.1h-4.1zM559.89 95.45h4.1v4.1h-4.1zM564.95 89.45h4.1v4.1h-4.1zM570.01 85.35h4.1v4.1h-4.1zM575.06 83.95h4.1v4.1h-4.1zM580.12 84.95h4.1v4.1h-4.1zM585.18 87.55h4.1v4.1h-4.1zM590.24 92.45h4.1v4.1h-4.1zM595.29 99.15h4.1v4.1h-4.1zM600.35 107.95h4.1v4.1h-4.1zM605.41 119.55h4.1v4.1h-4.1zM610.46 132.45h4.1v4.1h-4.1zM615.52 145.15h4.1v4.1h-4.1zM620.58 157.65h4.1v4.1h-4.1zM625.64 168.15h4.1v4.1h-4.1zM630.69 176.65h4.1v4.1h-4.1zM635.75 183.65h4.1v4.1h-4.1z" fill="#0000ff"/>
</g>
<text transform="translate(357,94) rotate(-90)" font-size="11.5" text-anchor="middle">-Phase (&#176;)</text>
<text x="513.8" y="233.2" font-size="11.3" text-anchor="middle" font-weight="normal" font-style="normal" fill="#000" >Frequency (Hz)</text>
<text x="531.6" y="38.4" font-size="15.5" text-anchor="middle" font-weight="bold" font-style="normal" fill="#000" >(b)</text>
<rect x="564" y="17.3" width="81.5" height="24" fill="#000"/>
<rect x="561" y="14.3" width="81.5" height="24" fill="#fff" stroke="#555" stroke-width="0.8"/>
<line x1="567.2" y1="21.6" x2="587" y2="21.6" stroke="#ff6060" stroke-width="1"/>
<rect x="575.15" y="19.45" width="4.3" height="4.3" fill="#f00"/>
<text x="590.3" y="24.66" font-size="8.5" font-weight="bold" font-style="italic">NC_J-SSC</text>
<line x1="567.2" y1="32.8" x2="587" y2="32.8" stroke="#6a6aff" stroke-width="1"/>
<rect x="575.15" y="30.65" width="4.3" height="4.3" fill="#00f"/>
<text x="590.3" y="35.86" font-size="8.5" font-weight="bold" font-style="italic">NC_CV-SSC</text>
<rect x="37" y="262" width="274.7" height="193" fill="none" stroke="#222" stroke-width="1.1"/>
<line x1="37" y1="455" x2="40.9" y2="455" stroke="#222" stroke-width="1"/>
<text transform="translate(32.1,457.5) scale(0.88,1)" font-size="9.1" text-anchor="end" font-weight="normal" font-style="normal" fill="#000" >0.0</text>
<line x1="37" y1="418.25" x2="40.9" y2="418.25" stroke="#222" stroke-width="1"/>
<text transform="translate(32.1,420.75) scale(0.88,1)" font-size="9.1" text-anchor="end" font-weight="normal" font-style="normal" fill="#000" >0.2</text>
<line x1="37" y1="381.5" x2="40.9" y2="381.5" stroke="#222" stroke-width="1"/>
<text transform="translate(32.1,384) scale(0.88,1)" font-size="9.1" text-anchor="end" font-weight="normal" font-style="normal" fill="#000" >0.4</text>
<line x1="37" y1="344.75" x2="40.9" y2="344.75" stroke="#222" stroke-width="1"/>
<text transform="translate(32.1,347.25) scale(0.88,1)" font-size="9.1" text-anchor="end" font-weight="normal" font-style="normal" fill="#000" >0.6</text>
<line x1="37" y1="308" x2="40.9" y2="308" stroke="#222" stroke-width="1"/>
<text transform="translate(32.1,310.5) scale(0.88,1)" font-size="9.1" text-anchor="end" font-weight="normal" font-style="normal" fill="#000" >0.8</text>
<line x1="37" y1="271.25" x2="40.9" y2="271.25" stroke="#222" stroke-width="1"/>
<text transform="translate(32.1,273.75) scale(0.88,1)" font-size="9.1" text-anchor="end" font-weight="normal" font-style="normal" fill="#000" >1.0</text>
<line x1="37" y1="436.62" x2="39.2" y2="436.62" stroke="#222" stroke-width="0.8"/>
<line x1="37" y1="399.88" x2="39.2" y2="399.88" stroke="#222" stroke-width="0.8"/>
<line x1="37" y1="363.12" x2="39.2" y2="363.12" stroke="#222" stroke-width="0.8"/>
<line x1="37" y1="326.38" x2="39.2" y2="326.38" stroke="#222" stroke-width="0.8"/>
<line x1="37" y1="289.62" x2="39.2" y2="289.62" stroke="#222" stroke-width="0.8"/>
<line x1="37" y1="455" x2="37" y2="451.1" stroke="#222" stroke-width="1"/>
<line x1="48.81" y1="455" x2="48.81" y2="452.8" stroke="#222" stroke-width="0.8"/>
<line x1="55.72" y1="455" x2="55.72" y2="452.8" stroke="#222" stroke-width="0.8"/>
<line x1="60.62" y1="455" x2="60.62" y2="452.8" stroke="#222" stroke-width="0.8"/>
<line x1="64.43" y1="455" x2="64.43" y2="452.8" stroke="#222" stroke-width="0.8"/>
<line x1="67.53" y1="455" x2="67.53" y2="452.8" stroke="#222" stroke-width="0.8"/>
<line x1="70.16" y1="455" x2="70.16" y2="452.8" stroke="#222" stroke-width="0.8"/>
<line x1="72.44" y1="455" x2="72.44" y2="452.8" stroke="#222" stroke-width="0.8"/>
<line x1="74.44" y1="455" x2="74.44" y2="452.8" stroke="#222" stroke-width="0.8"/>
<line x1="76.24" y1="455" x2="76.24" y2="451.1" stroke="#222" stroke-width="1"/>
<line x1="88.05" y1="455" x2="88.05" y2="452.8" stroke="#222" stroke-width="0.8"/>
<line x1="94.96" y1="455" x2="94.96" y2="452.8" stroke="#222" stroke-width="0.8"/>
<line x1="99.86" y1="455" x2="99.86" y2="452.8" stroke="#222" stroke-width="0.8"/>
<line x1="103.67" y1="455" x2="103.67" y2="452.8" stroke="#222" stroke-width="0.8"/>
<line x1="106.77" y1="455" x2="106.77" y2="452.8" stroke="#222" stroke-width="0.8"/>
<line x1="109.4" y1="455" x2="109.4" y2="452.8" stroke="#222" stroke-width="0.8"/>
<line x1="111.68" y1="455" x2="111.68" y2="452.8" stroke="#222" stroke-width="0.8"/>
<line x1="113.68" y1="455" x2="113.68" y2="452.8" stroke="#222" stroke-width="0.8"/>
<line x1="115.48" y1="455" x2="115.48" y2="451.1" stroke="#222" stroke-width="1"/>
<line x1="127.29" y1="455" x2="127.29" y2="452.8" stroke="#222" stroke-width="0.8"/>
<line x1="134.2" y1="455" x2="134.2" y2="452.8" stroke="#222" stroke-width="0.8"/>
<line x1="139.1" y1="455" x2="139.1" y2="452.8" stroke="#222" stroke-width="0.8"/>
<line x1="142.91" y1="455" x2="142.91" y2="452.8" stroke="#222" stroke-width="0.8"/>
<line x1="146.01" y1="455" x2="146.01" y2="452.8" stroke="#222" stroke-width="0.8"/>
<line x1="148.64" y1="455" x2="148.64" y2="452.8" stroke="#222" stroke-width="0.8"/>
<line x1="150.92" y1="455" x2="150.92" y2="452.8" stroke="#222" stroke-width="0.8"/>
<line x1="152.92" y1="455" x2="152.92" y2="452.8" stroke="#222" stroke-width="0.8"/>
<line x1="154.72" y1="455" x2="154.72" y2="451.1" stroke="#222" stroke-width="1"/>
<line x1="166.53" y1="455" x2="166.53" y2="452.8" stroke="#222" stroke-width="0.8"/>
<line x1="173.44" y1="455" x2="173.44" y2="452.8" stroke="#222" stroke-width="0.8"/>
<line x1="178.34" y1="455" x2="178.34" y2="452.8" stroke="#222" stroke-width="0.8"/>
<line x1="182.15" y1="455" x2="182.15" y2="452.8" stroke="#222" stroke-width="0.8"/>
<line x1="185.25" y1="455" x2="185.25" y2="452.8" stroke="#222" stroke-width="0.8"/>
<line x1="187.88" y1="455" x2="187.88" y2="452.8" stroke="#222" stroke-width="0.8"/>
<line x1="190.16" y1="455" x2="190.16" y2="452.8" stroke="#222" stroke-width="0.8"/>
<line x1="192.16" y1="455" x2="192.16" y2="452.8" stroke="#222" stroke-width="0.8"/>
<line x1="193.96" y1="455" x2="193.96" y2="451.1" stroke="#222" stroke-width="1"/>
<line x1="205.77" y1="455" x2="205.77" y2="452.8" stroke="#222" stroke-width="0.8"/>
<line x1="212.68" y1="455" x2="212.68" y2="452.8" stroke="#222" stroke-width="0.8"/>
<line x1="217.58" y1="455" x2="217.58" y2="452.8" stroke="#222" stroke-width="0.8"/>
<line x1="221.39" y1="455" x2="221.39" y2="452.8" stroke="#222" stroke-width="0.8"/>
<line x1="224.49" y1="455" x2="224.49" y2="452.8" stroke="#222" stroke-width="0.8"/>
<line x1="227.12" y1="455" x2="227.12" y2="452.8" stroke="#222" stroke-width="0.8"/>
<line x1="229.4" y1="455" x2="229.4" y2="452.8" stroke="#222" stroke-width="0.8"/>
<line x1="231.4" y1="455" x2="231.4" y2="452.8" stroke="#222" stroke-width="0.8"/>
<line x1="233.2" y1="455" x2="233.2" y2="451.1" stroke="#222" stroke-width="1"/>
<line x1="245.01" y1="455" x2="245.01" y2="452.8" stroke="#222" stroke-width="0.8"/>
<line x1="251.92" y1="455" x2="251.92" y2="452.8" stroke="#222" stroke-width="0.8"/>
<line x1="256.82" y1="455" x2="256.82" y2="452.8" stroke="#222" stroke-width="0.8"/>
<line x1="260.63" y1="455" x2="260.63" y2="452.8" stroke="#222" stroke-width="0.8"/>
<line x1="263.73" y1="455" x2="263.73" y2="452.8" stroke="#222" stroke-width="0.8"/>
<line x1="266.36" y1="455" x2="266.36" y2="452.8" stroke="#222" stroke-width="0.8"/>
<line x1="268.64" y1="455" x2="268.64" y2="452.8" stroke="#222" stroke-width="0.8"/>
<line x1="270.64" y1="455" x2="270.64" y2="452.8" stroke="#222" stroke-width="0.8"/>
<line x1="272.44" y1="455" x2="272.44" y2="451.1" stroke="#222" stroke-width="1"/>
<line x1="284.25" y1="455" x2="284.25" y2="452.8" stroke="#222" stroke-width="0.8"/>
<line x1="291.16" y1="455" x2="291.16" y2="452.8" stroke="#222" stroke-width="0.8"/>
<line x1="296.06" y1="455" x2="296.06" y2="452.8" stroke="#222" stroke-width="0.8"/>
<line x1="299.87" y1="455" x2="299.87" y2="452.8" stroke="#222" stroke-width="0.8"/>
<line x1="302.97" y1="455" x2="302.97" y2="452.8" stroke="#222" stroke-width="0.8"/>
<line x1="305.6" y1="455" x2="305.6" y2="452.8" stroke="#222" stroke-width="0.8"/>
<line x1="307.88" y1="455" x2="307.88" y2="452.8" stroke="#222" stroke-width="0.8"/>
<line x1="309.88" y1="455" x2="309.88" y2="452.8" stroke="#222" stroke-width="0.8"/>
<line x1="311.68" y1="455" x2="311.68" y2="451.1" stroke="#222" stroke-width="1"/>
<text x="37" y="467.6" font-size="7.6" text-anchor="middle">10<tspan font-size="4.8" dy="-3.42">-2</tspan></text>
<text x="76.24" y="467.6" font-size="7.6" text-anchor="middle">10<tspan font-size="4.8" dy="-3.42">-1</tspan></text>
<text x="115.48" y="467.6" font-size="7.6" text-anchor="middle">10<tspan font-size="4.8" dy="-3.42">0</tspan></text>
<text x="154.72" y="467.6" font-size="7.6" text-anchor="middle">10<tspan font-size="4.8" dy="-3.42">1</tspan></text>
<text x="193.96" y="467.6" font-size="7.6" text-anchor="middle">10<tspan font-size="4.8" dy="-3.42">2</tspan></text>
<text x="233.2" y="467.6" font-size="7.6" text-anchor="middle">10<tspan font-size="4.8" dy="-3.42">3</tspan></text>
<text x="272.44" y="467.6" font-size="7.6" text-anchor="middle">10<tspan font-size="4.8" dy="-3.42">4</tspan></text>
<text x="311.68" y="467.6" font-size="7.6" text-anchor="middle">10<tspan font-size="4.8" dy="-3.42">5</tspan></text>
<g clip-path="url(#cc)">
<polyline points="37,271.25 42.61,276.1 48.21,280.4 53.82,284.4 59.42,287.6 65.03,292 70.63,295.3 76.24,298.7 81.85,302.8 87.45,307.9 93.06,313 98.66,321.25 104.27,326.75 109.87,337.25 115.48,350 121.09,365 126.69,380.9 132.3,395.1 137.9,408.5 143.51,419.6 149.11,428.7 154.72,435.6 160.33,440.9 165.93,444.9 171.54,448.2 177.14,450 182.75,450.9 188.35,451.8 193.96,452.4 199.57,452.8 205.17,453.1 210.78,453.3 216.38,453.45 221.99,453.55 227.59,453.6 233.2,453.65 238.81,453.7 244.41,453.72 250.02,453.74 255.62,453.76 261.23,453.78 266.83,453.8 272.44,453.8 278.05,453.8 283.65,453.8 289.26,453.8 294.86,453.8 300.47,453.8 306.07,453.8 311.68,453.8" fill="none" stroke="#ff4848" stroke-width="0.7"/>
<path d="M34.95 269.2h4.1v4.1h-4.1zM40.56 274.05h4.1v4.1h-4.1zM46.16 278.35h4.1v4.1h-4.1zM51.77 282.35h4.1v4.1h-4.1zM57.37 285.55h4.1v4.1h-4.1zM62.98 289.95h4.1v4.1h-4.1zM68.58 293.25h4.1v4.1h-4.1zM74.19 296.65h4.1v4.1h-4.1zM79.8 300.75h4.1v4.1h-4.1zM85.4 305.85h4.1v4.1h-4.1zM91.01 310.95h4.1v4.1h-4.1zM96.61 319.2h4.1v4.1h-4.1zM102.22 324.7h4.1v4.1h-4.1zM107.82 335.2h4.1v4.1h-4.1zM113.43 347.95h4.1v4.1h-4.1zM119.04 362.95h4.1v4.1h-4.1zM124.64 378.85h4.1v4.1h-4.1zM130.25 393.05h4.1v4.1h-4.1zM135.85 406.45h4.1v4.1h-4.1zM141.46 417.55h4.1v4.1h-4.1zM147.06 426.65h4.1v4.1h-4.1zM152.67 433.55h4.1v4.1h-4.1zM158.28 438.85h4.1v4.1h-4.1zM163.88 442.85h4.1v4.1h-4.1zM169.49 446.15h4.1v4.1h-4.1zM175.09 447.95h4.1v4.1h-4.1zM180.7 448.85h4.1v4.1h-4.1zM186.3 449.75h4.1v4.1h-4.1zM191.91 450.35h4.1v4.1h-4.1zM197.52 450.75h4.1v4.1h-4.1zM203.12 451.05h4.1v4.1h-4.1zM208.73 451.25h4.1v4.1h-4.1zM214.33 451.4h4.1v4.1h-4.1zM219.94 451.5h4.1v4.1h-4.1zM225.54 451.55h4.1v4.1h-4.1zM231.15 451.6h4.1v4.1h-4.1zM236.76 451.65h4.1v4.1h-4.1zM242.36 451.67h4.1v4.1h-4.1zM247.97 451.69h4.1v4.1h-4.1zM253.57 451.71h4.1v4.1h-4.1zM259.18 451.73h4.1v4.1h-4.1zM264.78 451.75h4.1v4.1h-4.1zM270.39 451.75h4.1v4.1h-4.1zM276 451.75h4.1v4.1h-4.1zM281.6 451.75h4.1v4.1h-4.1zM287.21 451.75h4.1v4.1h-4.1zM292.81 451.75h4.1v4.1h-4.1zM298.42 451.75h4.1v4.1h-4.1zM304.02 451.75h4.1v4.1h-4.1zM309.63 451.75h4.1v4.1h-4.1z" fill="#ff0000"/>
</g>
<g clip-path="url(#cc)">
<polyline points="42.61,271.1 48.21,274 53.82,277 59.42,279.8 65.03,283.3 70.63,287.5 76.24,292.5 81.85,299 87.45,307.1 93.06,317 98.66,329.25 104.27,343.75 109.87,359.25 115.48,376.75 121.09,393.1 126.69,408.2 132.3,419.8 137.9,429.1 143.51,436.4 149.11,441.6 154.72,445.5 160.33,448.4 165.93,450.4 171.54,452 177.14,452.9 182.75,453.5 188.35,453.8 193.96,454 199.57,454.1 205.17,454.15 210.78,454.2 216.38,454.2 221.99,454.25 227.59,454.25 233.2,454.25 238.81,454.3 244.41,454.3 250.02,454.3 255.62,454.3 261.23,454.3 266.83,454.3 272.44,454.3 278.05,454.3 283.65,454.3 289.26,454.3 294.86,454.3 300.47,454.3 306.07,454.3 311.68,454.3" fill="none" stroke="#4848ff" stroke-width="0.7"/>
<path d="M40.56 269.05h4.1v4.1h-4.1zM46.16 271.95h4.1v4.1h-4.1zM51.77 274.95h4.1v4.1h-4.1zM57.37 277.75h4.1v4.1h-4.1zM62.98 281.25h4.1v4.1h-4.1zM68.58 285.45h4.1v4.1h-4.1zM74.19 290.45h4.1v4.1h-4.1zM79.8 296.95h4.1v4.1h-4.1zM85.4 305.05h4.1v4.1h-4.1zM91.01 314.95h4.1v4.1h-4.1zM96.61 327.2h4.1v4.1h-4.1zM102.22 341.7h4.1v4.1h-4.1zM107.82 357.2h4.1v4.1h-4.1zM113.43 374.7h4.1v4.1h-4.1zM119.04 391.05h4.1v4.1h-4.1zM124.64 406.15h4.1v4.1h-4.1zM130.25 417.75h4.1v4.1h-4.1zM135.85 427.05h4.1v4.1h-4.1zM141.46 434.35h4.1v4.1h-4.1zM147.06 439.55h4.1v4.1h-4.1zM152.67 443.45h4.1v4.1h-4.1zM158.28 446.35h4.1v4.1h-4.1zM163.88 448.35h4.1v4.1h-4.1zM169.49 449.95h4.1v4.1h-4.1zM175.09 450.85h4.1v4.1h-4.1zM180.7 451.45h4.1v4.1h-4.1zM186.3 451.75h4.1v4.1h-4.1zM191.91 451.95h4.1v4.1h-4.1zM197.52 452.05h4.1v4.1h-4.1zM203.12 452.1h4.1v4.1h-4.1zM208.73 452.15h4.1v4.1h-4.1zM214.33 452.15h4.1v4.1h-4.1zM219.94 452.2h4.1v4.1h-4.1zM225.54 452.2h4.1v4.1h-4.1zM231.15 452.2h4.1v4.1h-4.1zM236.76 452.25h4.1v4.1h-4.1zM242.36 452.25h4.1v4.1h-4.1zM247.97 452.25h4.1v4.1h-4.1zM253.57 452.25h4.1v4.1h-4.1zM259.18 452.25h4.1v4.1h-4.1zM264.78 452.25h4.1v4.1h-4.1zM270.39 452.25h4.1v4.1h-4.1zM276 452.25h4.1v4.1h-4.1zM281.6 452.25h4.1v4.1h-4.1zM287.21 452.25h4.1v4.1h-4.1zM292.81 452.25h4.1v4.1h-4.1zM298.42 452.25h4.1v4.1h-4.1zM304.02 452.25h4.1v4.1h-4.1zM309.63 452.25h4.1v4.1h-4.1z" fill="#0000ff"/>
</g>
<text transform="translate(8.9,347.6) rotate(-90)" font-size="11.3" text-anchor="middle">Normalized C<tspan font-size="6.5" dy="3.2">EIS</tspan></text>
<text x="174.2" y="481.2" font-size="11.5" text-anchor="middle" font-weight="normal" font-style="normal" fill="#000" >Frequency (Hz)</text>
<text x="166.3" y="291.5" font-size="15.5" text-anchor="middle" font-weight="bold" font-style="normal" fill="#000" >(c)</text>
<rect x="208.5" y="280.8" width="92.5" height="27.2" fill="#000"/>
<rect x="205.5" y="277.8" width="92.5" height="27.2" fill="#fff" stroke="#555" stroke-width="0.8"/>
<line x1="215" y1="287" x2="235" y2="287" stroke="#ff6060" stroke-width="1"/>
<rect x="222.8" y="284.8" width="4.4" height="4.4" fill="#f00"/>
<text x="238.3" y="290.19" font-size="8.85" font-weight="bold" font-style="italic">NC_J-SSC</text>
<line x1="215" y1="297.7" x2="235" y2="297.7" stroke="#6a6aff" stroke-width="1"/>
<rect x="222.8" y="295.5" width="4.4" height="4.4" fill="#00f"/>
<text x="238.3" y="300.89" font-size="8.85" font-weight="bold" font-style="italic">NC_CV-SSC</text>
<g class="sm">
<rect x="160.4" y="313.1" width="140.90" height="101.10" fill="#fff" stroke="#444" stroke-width="0.7"/>
<line x1="160.4" y1="414.2" x2="162.2" y2="414.2" stroke="#222" stroke-width="0.6"/>
<text x="157.5" y="415.71" font-size="4.2" text-anchor="end" font-weight="normal" font-style="normal" fill="#000" >0.0</text>
<line x1="160.4" y1="393.98" x2="162.2" y2="393.98" stroke="#222" stroke-width="0.6"/>
<text x="157.5" y="395.49" font-size="4.2" text-anchor="end" font-weight="normal" font-style="normal" fill="#000" >0.2</text>
<line x1="160.4" y1="373.76" x2="162.2" y2="373.76" stroke="#222" stroke-width="0.6"/>
<text x="157.5" y="375.27" font-size="4.2" text-anchor="end" font-weight="normal" font-style="normal" fill="#000" >0.4</text>
<line x1="160.4" y1="353.54" x2="162.2" y2="353.54" stroke="#222" stroke-width="0.6"/>
<text x="157.5" y="355.05" font-size="4.2" text-anchor="end" font-weight="normal" font-style="normal" fill="#000" >0.6</text>
<line x1="160.4" y1="333.32" x2="162.2" y2="333.32" stroke="#222" stroke-width="0.6"/>
<text x="157.5" y="334.83" font-size="4.2" text-anchor="end" font-weight="normal" font-style="normal" fill="#000" >0.8</text>
<line x1="160.4" y1="313.1" x2="162.2" y2="313.1" stroke="#222" stroke-width="0.6"/>
<text x="157.5" y="314.61" font-size="4.2" text-anchor="end" font-weight="normal" font-style="normal" fill="#000" >1.0</text>
<line x1="160.4" y1="404.09" x2="161.5" y2="404.09" stroke="#222" stroke-width="0.48"/>
<line x1="160.4" y1="383.87" x2="161.5" y2="383.87" stroke="#222" stroke-width="0.48"/>
<line x1="160.4" y1="363.65" x2="161.5" y2="363.65" stroke="#222" stroke-width="0.48"/>
<line x1="160.4" y1="343.43" x2="161.5" y2="343.43" stroke="#222" stroke-width="0.48"/>
<line x1="160.4" y1="323.21" x2="161.5" y2="323.21" stroke="#222" stroke-width="0.48"/>
<line x1="160.4" y1="414.2" x2="160.4" y2="412.4" stroke="#222" stroke-width="0.6"/>
<line x1="166.46" y1="414.2" x2="166.46" y2="413.1" stroke="#222" stroke-width="0.48"/>
<line x1="170" y1="414.2" x2="170" y2="413.1" stroke="#222" stroke-width="0.48"/>
<line x1="172.52" y1="414.2" x2="172.52" y2="413.1" stroke="#222" stroke-width="0.48"/>
<line x1="174.47" y1="414.2" x2="174.47" y2="413.1" stroke="#222" stroke-width="0.48"/>
<line x1="176.06" y1="414.2" x2="176.06" y2="413.1" stroke="#222" stroke-width="0.48"/>
<line x1="177.41" y1="414.2" x2="177.41" y2="413.1" stroke="#222" stroke-width="0.48"/>
<line x1="178.58" y1="414.2" x2="178.58" y2="413.1" stroke="#222" stroke-width="0.48"/>
<line x1="179.61" y1="414.2" x2="179.61" y2="413.1" stroke="#222" stroke-width="0.48"/>
<line x1="180.53" y1="414.2" x2="180.53" y2="412.4" stroke="#222" stroke-width="0.6"/>
<line x1="186.59" y1="414.2" x2="186.59" y2="413.1" stroke="#222" stroke-width="0.48"/>
<line x1="190.13" y1="414.2" x2="190.13" y2="413.1" stroke="#222" stroke-width="0.48"/>
<line x1="192.65" y1="414.2" x2="192.65" y2="413.1" stroke="#222" stroke-width="0.48"/>
<line x1="194.6" y1="414.2" x2="194.6" y2="413.1" stroke="#222" stroke-width="0.48"/>
<line x1="196.19" y1="414.2" x2="196.19" y2="413.1" stroke="#222" stroke-width="0.48"/>
<line x1="197.54" y1="414.2" x2="197.54" y2="413.1" stroke="#222" stroke-width="0.48"/>
<line x1="198.71" y1="414.2" x2="198.71" y2="413.1" stroke="#222" stroke-width="0.48"/>
<line x1="199.74" y1="414.2" x2="199.74" y2="413.1" stroke="#222" stroke-width="0.48"/>
<line x1="200.66" y1="414.2" x2="200.66" y2="412.4" stroke="#222" stroke-width="0.6"/>
<line x1="206.72" y1="414.2" x2="206.72" y2="413.1" stroke="#222" stroke-width="0.48"/>
<line x1="210.26" y1="414.2" x2="210.26" y2="413.1" stroke="#222" stroke-width="0.48"/>
<line x1="212.78" y1="414.2" x2="212.78" y2="413.1" stroke="#222" stroke-width="0.48"/>
<line x1="214.73" y1="414.2" x2="214.73" y2="413.1" stroke="#222" stroke-width="0.48"/>
<line x1="216.32" y1="414.2" x2="216.32" y2="413.1" stroke="#222" stroke-width="0.48"/>
<line x1="217.67" y1="414.2" x2="217.67" y2="413.1" stroke="#222" stroke-width="0.48"/>
<line x1="218.84" y1="414.2" x2="218.84" y2="413.1" stroke="#222" stroke-width="0.48"/>
<line x1="219.86" y1="414.2" x2="219.86" y2="413.1" stroke="#222" stroke-width="0.48"/>
<line x1="220.79" y1="414.2" x2="220.79" y2="412.4" stroke="#222" stroke-width="0.6"/>
<line x1="226.85" y1="414.2" x2="226.85" y2="413.1" stroke="#222" stroke-width="0.48"/>
<line x1="230.39" y1="414.2" x2="230.39" y2="413.1" stroke="#222" stroke-width="0.48"/>
<line x1="232.9" y1="414.2" x2="232.9" y2="413.1" stroke="#222" stroke-width="0.48"/>
<line x1="234.85" y1="414.2" x2="234.85" y2="413.1" stroke="#222" stroke-width="0.48"/>
<line x1="236.45" y1="414.2" x2="236.45" y2="413.1" stroke="#222" stroke-width="0.48"/>
<line x1="237.8" y1="414.2" x2="237.8" y2="413.1" stroke="#222" stroke-width="0.48"/>
<line x1="238.96" y1="414.2" x2="238.96" y2="413.1" stroke="#222" stroke-width="0.48"/>
<line x1="239.99" y1="414.2" x2="239.99" y2="413.1" stroke="#222" stroke-width="0.48"/>
<line x1="240.91" y1="414.2" x2="240.91" y2="412.4" stroke="#222" stroke-width="0.6"/>
<line x1="246.97" y1="414.2" x2="246.97" y2="413.1" stroke="#222" stroke-width="0.48"/>
<line x1="250.52" y1="414.2" x2="250.52" y2="413.1" stroke="#222" stroke-width="0.48"/>
<line x1="253.03" y1="414.2" x2="253.03" y2="413.1" stroke="#222" stroke-width="0.48"/>
<line x1="254.98" y1="414.2" x2="254.98" y2="413.1" stroke="#222" stroke-width="0.48"/>
<line x1="256.58" y1="414.2" x2="256.58" y2="413.1" stroke="#222" stroke-width="0.48"/>
<line x1="257.92" y1="414.2" x2="257.92" y2="413.1" stroke="#222" stroke-width="0.48"/>
<line x1="259.09" y1="414.2" x2="259.09" y2="413.1" stroke="#222" stroke-width="0.48"/>
<line x1="260.12" y1="414.2" x2="260.12" y2="413.1" stroke="#222" stroke-width="0.48"/>
<line x1="261.04" y1="414.2" x2="261.04" y2="412.4" stroke="#222" stroke-width="0.6"/>
<line x1="267.1" y1="414.2" x2="267.1" y2="413.1" stroke="#222" stroke-width="0.48"/>
<line x1="270.65" y1="414.2" x2="270.65" y2="413.1" stroke="#222" stroke-width="0.48"/>
<line x1="273.16" y1="414.2" x2="273.16" y2="413.1" stroke="#222" stroke-width="0.48"/>
<line x1="275.11" y1="414.2" x2="275.11" y2="413.1" stroke="#222" stroke-width="0.48"/>
<line x1="276.71" y1="414.2" x2="276.71" y2="413.1" stroke="#222" stroke-width="0.48"/>
<line x1="278.05" y1="414.2" x2="278.05" y2="413.1" stroke="#222" stroke-width="0.48"/>
<line x1="279.22" y1="414.2" x2="279.22" y2="413.1" stroke="#222" stroke-width="0.48"/>
<line x1="280.25" y1="414.2" x2="280.25" y2="413.1" stroke="#222" stroke-width="0.48"/>
<line x1="281.17" y1="414.2" x2="281.17" y2="412.4" stroke="#222" stroke-width="0.6"/>
<line x1="287.23" y1="414.2" x2="287.23" y2="413.1" stroke="#222" stroke-width="0.48"/>
<line x1="290.78" y1="414.2" x2="290.78" y2="413.1" stroke="#222" stroke-width="0.48"/>
<line x1="293.29" y1="414.2" x2="293.29" y2="413.1" stroke="#222" stroke-width="0.48"/>
<line x1="295.24" y1="414.2" x2="295.24" y2="413.1" stroke="#222" stroke-width="0.48"/>
<line x1="296.83" y1="414.2" x2="296.83" y2="413.1" stroke="#222" stroke-width="0.48"/>
<line x1="298.18" y1="414.2" x2="298.18" y2="413.1" stroke="#222" stroke-width="0.48"/>
<line x1="299.35" y1="414.2" x2="299.35" y2="413.1" stroke="#222" stroke-width="0.48"/>
<line x1="300.38" y1="414.2" x2="300.38" y2="413.1" stroke="#222" stroke-width="0.48"/>
<line x1="301.3" y1="414.2" x2="301.3" y2="412.4" stroke="#222" stroke-width="0.6"/>
<text x="160.4" y="419.8" font-size="4.2" text-anchor="middle">10<tspan font-size="3" dy="-1.89">-2</tspan></text>
<text x="180.53" y="419.8" font-size="4.2" text-anchor="middle">10<tspan font-size="3" dy="-1.89">-1</tspan></text>
<text x="200.66" y="419.8" font-size="4.2" text-anchor="middle">10<tspan font-size="3" dy="-1.89">0</tspan></text>
<text x="220.79" y="419.8" font-size="4.2" text-anchor="middle">10<tspan font-size="3" dy="-1.89">1</tspan></text>
<text x="240.91" y="419.8" font-size="4.2" text-anchor="middle">10<tspan font-size="3" dy="-1.89">2</tspan></text>
<text x="261.04" y="419.8" font-size="4.2" text-anchor="middle">10<tspan font-size="3" dy="-1.89">3</tspan></text>
<text x="281.17" y="419.8" font-size="4.2" text-anchor="middle">10<tspan font-size="3" dy="-1.89">4</tspan></text>
<text x="301.3" y="419.8" font-size="4.2" text-anchor="middle">10<tspan font-size="3" dy="-1.89">5</tspan></text>
<g clip-path="url(#cci)">
<polyline points="160.4,324.22 163.28,326.6 166.15,328.7 169.03,330.66 171.9,332.23 174.78,334.38 177.65,336 180.53,337.66 183.4,339.67 186.28,342.17 189.16,344.67 192.03,348.71 194.91,351.4 197.78,356.54 200.66,362.78 203.53,370.13 206.41,377.91 209.28,384.87 212.16,391.43 215.03,396.87 217.91,401.32 220.79,404.7 223.66,407.3 226.54,409.25 229.41,410.87 232.29,411.75 235.16,412.19 238.04,412.63 240.91,412.93 243.79,413.12 246.67,413.27 249.54,413.37 252.42,413.44 255.29,413.49 258.17,413.51 261.04,413.54 263.92,413.56 266.79,413.57 269.67,413.58 272.54,413.59 275.42,413.6 278.3,413.61 281.17,413.61 284.05,413.61 286.92,413.61 289.8,413.61 292.67,413.61 295.55,413.61 298.42,413.61 301.3,413.61" fill="none" stroke="#ff4848" stroke-width="0.6"/>
<path d="M159.45 323.27h1.9v1.9h-1.9zM162.33 325.65h1.9v1.9h-1.9zM165.2 327.75h1.9v1.9h-1.9zM168.08 329.71h1.9v1.9h-1.9zM170.95 331.28h1.9v1.9h-1.9zM173.83 333.43h1.9v1.9h-1.9zM176.7 335.05h1.9v1.9h-1.9zM179.58 336.71h1.9v1.9h-1.9zM182.45 338.72h1.9v1.9h-1.9zM185.33 341.22h1.9v1.9h-1.9zM188.21 343.72h1.9v1.9h-1.9zM191.08 347.76h1.9v1.9h-1.9zM193.96 350.45h1.9v1.9h-1.9zM196.83 355.59h1.9v1.9h-1.9zM199.71 361.83h1.9v1.9h-1.9zM202.58 369.18h1.9v1.9h-1.9zM205.46 376.96h1.9v1.9h-1.9zM208.33 383.92h1.9v1.9h-1.9zM211.21 390.48h1.9v1.9h-1.9zM214.08 395.92h1.9v1.9h-1.9zM216.96 400.37h1.9v1.9h-1.9zM219.84 403.75h1.9v1.9h-1.9zM222.71 406.35h1.9v1.9h-1.9zM225.59 408.3h1.9v1.9h-1.9zM228.46 409.92h1.9v1.9h-1.9zM231.34 410.8h1.9v1.9h-1.9zM234.21 411.24h1.9v1.9h-1.9zM237.09 411.68h1.9v1.9h-1.9zM239.96 411.98h1.9v1.9h-1.9zM242.84 412.17h1.9v1.9h-1.9zM245.72 412.32h1.9v1.9h-1.9zM248.59 412.42h1.9v1.9h-1.9zM251.47 412.49h1.9v1.9h-1.9zM254.34 412.54h1.9v1.9h-1.9zM257.22 412.56h1.9v1.9h-1.9zM260.09 412.59h1.9v1.9h-1.9zM262.97 412.61h1.9v1.9h-1.9zM265.84 412.62h1.9v1.9h-1.9zM268.72 412.63h1.9v1.9h-1.9zM271.59 412.64h1.9v1.9h-1.9zM274.47 412.65h1.9v1.9h-1.9zM277.35 412.66h1.9v1.9h-1.9zM280.22 412.66h1.9v1.9h-1.9zM283.1 412.66h1.9v1.9h-1.9zM285.97 412.66h1.9v1.9h-1.9zM288.85 412.66h1.9v1.9h-1.9zM291.72 412.66h1.9v1.9h-1.9zM294.6 412.66h1.9v1.9h-1.9zM297.47 412.66h1.9v1.9h-1.9zM300.35 412.66h1.9v1.9h-1.9z" fill="#ff0000"/>
</g>
<g clip-path="url(#cci)">
<polyline points="163.28,353.09 166.15,354.05 169.03,355.05 171.9,355.98 174.78,357.14 177.65,358.54 180.53,360.2 183.4,362.36 186.28,365.05 189.16,368.34 192.03,372.41 194.91,377.23 197.78,382.38 200.66,388.2 203.53,393.63 206.41,398.65 209.28,402.5 212.16,405.59 215.03,408.02 217.91,409.75 220.79,411.04 223.66,412.01 226.54,412.67 229.41,413.2 232.29,413.5 235.16,413.7 238.04,413.8 240.91,413.87 243.79,413.9 246.67,413.92 249.54,413.93 252.42,413.93 255.29,413.95 258.17,413.95 261.04,413.95 263.92,413.97 266.79,413.97 269.67,413.97 272.54,413.97 275.42,413.97 278.3,413.97 281.17,413.97 284.05,413.97 286.92,413.97 289.8,413.97 292.67,413.97 295.55,413.97 298.42,413.97 301.3,413.97" fill="none" stroke="#4848ff" stroke-width="0.6"/>
<path d="M162.33 352.14h1.9v1.9h-1.9zM165.2 353.1h1.9v1.9h-1.9zM168.08 354.1h1.9v1.9h-1.9zM170.95 355.03h1.9v1.9h-1.9zM173.83 356.19h1.9v1.9h-1.9zM176.7 357.59h1.9v1.9h-1.9zM179.58 359.25h1.9v1.9h-1.9zM182.45 361.41h1.9v1.9h-1.9zM185.33 364.1h1.9v1.9h-1.9zM188.21 367.39h1.9v1.9h-1.9zM191.08 371.46h1.9v1.9h-1.9zM193.96 376.28h1.9v1.9h-1.9zM196.83 381.43h1.9v1.9h-1.9zM199.71 387.25h1.9v1.9h-1.9zM202.58 392.68h1.9v1.9h-1.9zM205.46 397.7h1.9v1.9h-1.9zM208.33 401.55h1.9v1.9h-1.9zM211.21 404.64h1.9v1.9h-1.9zM214.08 407.07h1.9v1.9h-1.9zM216.96 408.8h1.9v1.9h-1.9zM219.84 410.09h1.9v1.9h-1.9zM222.71 411.06h1.9v1.9h-1.9zM225.59 411.72h1.9v1.9h-1.9zM228.46 412.25h1.9v1.9h-1.9zM231.34 412.55h1.9v1.9h-1.9zM234.21 412.75h1.9v1.9h-1.9zM237.09 412.85h1.9v1.9h-1.9zM239.96 412.92h1.9v1.9h-1.9zM242.84 412.95h1.9v1.9h-1.9zM245.72 412.97h1.9v1.9h-1.9zM248.59 412.98h1.9v1.9h-1.9zM251.47 412.98h1.9v1.9h-1.9zM254.34 413h1.9v1.9h-1.9zM257.22 413h1.9v1.9h-1.9zM260.09 413h1.9v1.9h-1.9zM262.97 413.02h1.9v1.9h-1.9zM265.84 413.02h1.9v1.9h-1.9zM268.72 413.02h1.9v1.9h-1.9zM271.59 413.02h1.9v1.9h-1.9zM274.47 413.02h1.9v1.9h-1.9zM277.35 413.02h1.9v1.9h-1.9zM280.22 413.02h1.9v1.9h-1.9zM283.1 413.02h1.9v1.9h-1.9zM285.97 413.02h1.9v1.9h-1.9zM288.85 413.02h1.9v1.9h-1.9zM291.72 413.02h1.9v1.9h-1.9zM294.6 413.02h1.9v1.9h-1.9zM297.47 413.02h1.9v1.9h-1.9zM300.35 413.02h1.9v1.9h-1.9z" fill="#0000ff"/>
</g>
<text transform="translate(147,359.8) rotate(-90)" font-size="5.0" text-anchor="middle">C<tspan font-size="3.3" dy="1.4">EIS</tspan><tspan dy="-1.4"> (mF)</tspan></text>
<text x="231.6" y="428.5" font-size="5.5" text-anchor="middle" font-weight="normal" font-style="normal" fill="#000" >Frequency (Hz)</text>
</g>
<rect x="381.5" y="263.2" width="272.7" height="191.3" fill="none" stroke="#222" stroke-width="1.1"/>
<line x1="381.5" y1="454.5" x2="385.4" y2="454.5" stroke="#222" stroke-width="1"/>
<text transform="translate(376.6,457) scale(0.88,1)" font-size="9.1" text-anchor="end" font-weight="normal" font-style="normal" fill="#000" >0.0</text>
<line x1="381.5" y1="419.7" x2="385.4" y2="419.7" stroke="#222" stroke-width="1"/>
<text transform="translate(376.6,422.2) scale(0.88,1)" font-size="9.1" text-anchor="end" font-weight="normal" font-style="normal" fill="#000" >0.2</text>
<line x1="381.5" y1="384.9" x2="385.4" y2="384.9" stroke="#222" stroke-width="1"/>
<text transform="translate(376.6,387.4) scale(0.88,1)" font-size="9.1" text-anchor="end" font-weight="normal" font-style="normal" fill="#000" >0.4</text>
<line x1="381.5" y1="350.1" x2="385.4" y2="350.1" stroke="#222" stroke-width="1"/>
<text transform="translate(376.6,352.6) scale(0.88,1)" font-size="9.1" text-anchor="end" font-weight="normal" font-style="normal" fill="#000" >0.6</text>
<line x1="381.5" y1="315.3" x2="385.4" y2="315.3" stroke="#222" stroke-width="1"/>
<text transform="translate(376.6,317.8) scale(0.88,1)" font-size="9.1" text-anchor="end" font-weight="normal" font-style="normal" fill="#000" >0.8</text>
<line x1="381.5" y1="280.5" x2="385.4" y2="280.5" stroke="#222" stroke-width="1"/>
<text transform="translate(376.6,283) scale(0.88,1)" font-size="9.1" text-anchor="end" font-weight="normal" font-style="normal" fill="#000" >1.0</text>
<line x1="381.5" y1="437.1" x2="383.7" y2="437.1" stroke="#222" stroke-width="0.8"/>
<line x1="381.5" y1="402.3" x2="383.7" y2="402.3" stroke="#222" stroke-width="0.8"/>
<line x1="381.5" y1="367.5" x2="383.7" y2="367.5" stroke="#222" stroke-width="0.8"/>
<line x1="381.5" y1="332.7" x2="383.7" y2="332.7" stroke="#222" stroke-width="0.8"/>
<line x1="381.5" y1="297.9" x2="383.7" y2="297.9" stroke="#222" stroke-width="0.8"/>
<line x1="381.5" y1="454.5" x2="381.5" y2="450.6" stroke="#222" stroke-width="1"/>
<line x1="393.23" y1="454.5" x2="393.23" y2="452.3" stroke="#222" stroke-width="0.8"/>
<line x1="400.09" y1="454.5" x2="400.09" y2="452.3" stroke="#222" stroke-width="0.8"/>
<line x1="404.95" y1="454.5" x2="404.95" y2="452.3" stroke="#222" stroke-width="0.8"/>
<line x1="408.73" y1="454.5" x2="408.73" y2="452.3" stroke="#222" stroke-width="0.8"/>
<line x1="411.81" y1="454.5" x2="411.81" y2="452.3" stroke="#222" stroke-width="0.8"/>
<line x1="414.42" y1="454.5" x2="414.42" y2="452.3" stroke="#222" stroke-width="0.8"/>
<line x1="416.68" y1="454.5" x2="416.68" y2="452.3" stroke="#222" stroke-width="0.8"/>
<line x1="418.67" y1="454.5" x2="418.67" y2="452.3" stroke="#222" stroke-width="0.8"/>
<line x1="420.46" y1="454.5" x2="420.46" y2="450.6" stroke="#222" stroke-width="1"/>
<line x1="432.18" y1="454.5" x2="432.18" y2="452.3" stroke="#222" stroke-width="0.8"/>
<line x1="439.04" y1="454.5" x2="439.04" y2="452.3" stroke="#222" stroke-width="0.8"/>
<line x1="443.91" y1="454.5" x2="443.91" y2="452.3" stroke="#222" stroke-width="0.8"/>
<line x1="447.69" y1="454.5" x2="447.69" y2="452.3" stroke="#222" stroke-width="0.8"/>
<line x1="450.77" y1="454.5" x2="450.77" y2="452.3" stroke="#222" stroke-width="0.8"/>
<line x1="453.38" y1="454.5" x2="453.38" y2="452.3" stroke="#222" stroke-width="0.8"/>
<line x1="455.64" y1="454.5" x2="455.64" y2="452.3" stroke="#222" stroke-width="0.8"/>
<line x1="457.63" y1="454.5" x2="457.63" y2="452.3" stroke="#222" stroke-width="0.8"/>
<line x1="459.41" y1="454.5" x2="459.41" y2="450.6" stroke="#222" stroke-width="1"/>
<line x1="471.14" y1="454.5" x2="471.14" y2="452.3" stroke="#222" stroke-width="0.8"/>
<line x1="478" y1="454.5" x2="478" y2="452.3" stroke="#222" stroke-width="0.8"/>
<line x1="482.87" y1="454.5" x2="482.87" y2="452.3" stroke="#222" stroke-width="0.8"/>
<line x1="486.64" y1="454.5" x2="486.64" y2="452.3" stroke="#222" stroke-width="0.8"/>
<line x1="489.73" y1="454.5" x2="489.73" y2="452.3" stroke="#222" stroke-width="0.8"/>
<line x1="492.34" y1="454.5" x2="492.34" y2="452.3" stroke="#222" stroke-width="0.8"/>
<line x1="494.6" y1="454.5" x2="494.6" y2="452.3" stroke="#222" stroke-width="0.8"/>
<line x1="496.59" y1="454.5" x2="496.59" y2="452.3" stroke="#222" stroke-width="0.8"/>
<line x1="498.37" y1="454.5" x2="498.37" y2="450.6" stroke="#222" stroke-width="1"/>
<line x1="510.1" y1="454.5" x2="510.1" y2="452.3" stroke="#222" stroke-width="0.8"/>
<line x1="516.96" y1="454.5" x2="516.96" y2="452.3" stroke="#222" stroke-width="0.8"/>
<line x1="521.83" y1="454.5" x2="521.83" y2="452.3" stroke="#222" stroke-width="0.8"/>
<line x1="525.6" y1="454.5" x2="525.6" y2="452.3" stroke="#222" stroke-width="0.8"/>
<line x1="528.69" y1="454.5" x2="528.69" y2="452.3" stroke="#222" stroke-width="0.8"/>
<line x1="531.29" y1="454.5" x2="531.29" y2="452.3" stroke="#222" stroke-width="0.8"/>
<line x1="533.55" y1="454.5" x2="533.55" y2="452.3" stroke="#222" stroke-width="0.8"/>
<line x1="535.55" y1="454.5" x2="535.55" y2="452.3" stroke="#222" stroke-width="0.8"/>
<line x1="537.33" y1="454.5" x2="537.33" y2="450.6" stroke="#222" stroke-width="1"/>
<line x1="549.06" y1="454.5" x2="549.06" y2="452.3" stroke="#222" stroke-width="0.8"/>
<line x1="555.92" y1="454.5" x2="555.92" y2="452.3" stroke="#222" stroke-width="0.8"/>
<line x1="560.78" y1="454.5" x2="560.78" y2="452.3" stroke="#222" stroke-width="0.8"/>
<line x1="564.56" y1="454.5" x2="564.56" y2="452.3" stroke="#222" stroke-width="0.8"/>
<line x1="567.64" y1="454.5" x2="567.64" y2="452.3" stroke="#222" stroke-width="0.8"/>
<line x1="570.25" y1="454.5" x2="570.25" y2="452.3" stroke="#222" stroke-width="0.8"/>
<line x1="572.51" y1="454.5" x2="572.51" y2="452.3" stroke="#222" stroke-width="0.8"/>
<line x1="574.5" y1="454.5" x2="574.5" y2="452.3" stroke="#222" stroke-width="0.8"/>
<line x1="576.29" y1="454.5" x2="576.29" y2="450.6" stroke="#222" stroke-width="1"/>
<line x1="588.01" y1="454.5" x2="588.01" y2="452.3" stroke="#222" stroke-width="0.8"/>
<line x1="594.87" y1="454.5" x2="594.87" y2="452.3" stroke="#222" stroke-width="0.8"/>
<line x1="599.74" y1="454.5" x2="599.74" y2="452.3" stroke="#222" stroke-width="0.8"/>
<line x1="603.52" y1="454.5" x2="603.52" y2="452.3" stroke="#222" stroke-width="0.8"/>
<line x1="606.6" y1="454.5" x2="606.6" y2="452.3" stroke="#222" stroke-width="0.8"/>
<line x1="609.21" y1="454.5" x2="609.21" y2="452.3" stroke="#222" stroke-width="0.8"/>
<line x1="611.47" y1="454.5" x2="611.47" y2="452.3" stroke="#222" stroke-width="0.8"/>
<line x1="613.46" y1="454.5" x2="613.46" y2="452.3" stroke="#222" stroke-width="0.8"/>
<line x1="615.24" y1="454.5" x2="615.24" y2="450.6" stroke="#222" stroke-width="1"/>
<line x1="626.97" y1="454.5" x2="626.97" y2="452.3" stroke="#222" stroke-width="0.8"/>
<line x1="633.83" y1="454.5" x2="633.83" y2="452.3" stroke="#222" stroke-width="0.8"/>
<line x1="638.7" y1="454.5" x2="638.7" y2="452.3" stroke="#222" stroke-width="0.8"/>
<line x1="642.47" y1="454.5" x2="642.47" y2="452.3" stroke="#222" stroke-width="0.8"/>
<line x1="645.56" y1="454.5" x2="645.56" y2="452.3" stroke="#222" stroke-width="0.8"/>
<line x1="648.17" y1="454.5" x2="648.17" y2="452.3" stroke="#222" stroke-width="0.8"/>
<line x1="650.42" y1="454.5" x2="650.42" y2="452.3" stroke="#222" stroke-width="0.8"/>
<line x1="652.42" y1="454.5" x2="652.42" y2="452.3" stroke="#222" stroke-width="0.8"/>
<line x1="654.2" y1="454.5" x2="654.2" y2="450.6" stroke="#222" stroke-width="1"/>
<text x="381.5" y="467" font-size="7.6" text-anchor="middle">10<tspan font-size="4.8" dy="-3.42">-2</tspan></text>
<text x="420.46" y="467" font-size="7.6" text-anchor="middle">10<tspan font-size="4.8" dy="-3.42">-1</tspan></text>
<text x="459.41" y="467" font-size="7.6" text-anchor="middle">10<tspan font-size="4.8" dy="-3.42">0</tspan></text>
<text x="498.37" y="467" font-size="7.6" text-anchor="middle">10<tspan font-size="4.8" dy="-3.42">1</tspan></text>
<text x="537.33" y="467" font-size="7.6" text-anchor="middle">10<tspan font-size="4.8" dy="-3.42">2</tspan></text>
<text x="576.29" y="467" font-size="7.6" text-anchor="middle">10<tspan font-size="4.8" dy="-3.42">3</tspan></text>
<text x="615.24" y="467" font-size="7.6" text-anchor="middle">10<tspan font-size="4.8" dy="-3.42">4</tspan></text>
<text x="654.2" y="467" font-size="7.6" text-anchor="middle">10<tspan font-size="4.8" dy="-3.42">5</tspan></text>
<g clip-path="url(#cd)">
<polyline points="387.07,405 392.63,406.5 398.2,405 403.76,402.5 409.33,400.5 414.89,394.25 420.46,385.25 426.02,373.75 431.59,360 437.15,343.25 442.72,326.25 448.28,305 453.85,288.75 459.41,280.25 464.98,282.75 470.54,296 476.11,317.5 481.68,341.5 487.24,366 492.81,387 498.37,403.6 503.94,416.7 509.5,427 515.07,434.5 520.63,439.7 526.2,443.9 531.76,447 537.33,449.1 542.89,450.6 548.46,451.5 554.02,452.2 559.59,452.7 565.16,453 570.72,453.2 576.29,453.35 581.85,453.45 587.42,453.5 592.98,453.55 598.55,453.6 604.11,453.6 609.68,453.65 615.24,453.65 620.81,453.7 626.37,453.7 631.94,453.7 637.5,453.7 643.07,453.7 648.63,453.7 654.2,453.7" fill="none" stroke="#ff4848" stroke-width="0.7"/>
<path d="M385.02 402.95h4.1v4.1h-4.1zM390.58 404.45h4.1v4.1h-4.1zM396.15 402.95h4.1v4.1h-4.1zM401.71 400.45h4.1v4.1h-4.1zM407.28 398.45h4.1v4.1h-4.1zM412.84 392.2h4.1v4.1h-4.1zM418.41 383.2h4.1v4.1h-4.1zM423.97 371.7h4.1v4.1h-4.1zM429.54 357.95h4.1v4.1h-4.1zM435.1 341.2h4.1v4.1h-4.1zM440.67 324.2h4.1v4.1h-4.1zM446.23 302.95h4.1v4.1h-4.1zM451.8 286.7h4.1v4.1h-4.1zM457.36 278.2h4.1v4.1h-4.1zM462.93 280.7h4.1v4.1h-4.1zM468.49 293.95h4.1v4.1h-4.1zM474.06 315.45h4.1v4.1h-4.1zM479.63 339.45h4.1v4.1h-4.1zM485.19 363.95h4.1v4.1h-4.1zM490.76 384.95h4.1v4.1h-4.1zM496.32 401.55h4.1v4.1h-4.1zM501.89 414.65h4.1v4.1h-4.1zM507.45 424.95h4.1v4.1h-4.1zM513.02 432.45h4.1v4.1h-4.1zM518.58 437.65h4.1v4.1h-4.1zM524.15 441.85h4.1v4.1h-4.1zM529.71 444.95h4.1v4.1h-4.1zM535.28 447.05h4.1v4.1h-4.1zM540.84 448.55h4.1v4.1h-4.1zM546.41 449.45h4.1v4.1h-4.1zM551.97 450.15h4.1v4.1h-4.1zM557.54 450.65h4.1v4.1h-4.1zM563.11 450.95h4.1v4.1h-4.1zM568.67 451.15h4.1v4.1h-4.1zM574.24 451.3h4.1v4.1h-4.1zM579.8 451.4h4.1v4.1h-4.1zM585.37 451.45h4.1v4.1h-4.1zM590.93 451.5h4.1v4.1h-4.1zM596.5 451.55h4.1v4.1h-4.1zM602.06 451.55h4.1v4.1h-4.1zM607.63 451.6h4.1v4.1h-4.1zM613.19 451.6h4.1v4.1h-4.1zM618.76 451.65h4.1v4.1h-4.1zM624.32 451.65h4.1v4.1h-4.1zM629.89 451.65h4.1v4.1h-4.1zM635.45 451.65h4.1v4.1h-4.1zM641.02 451.65h4.1v4.1h-4.1zM646.58 451.65h4.1v4.1h-4.1zM652.15 451.65h4.1v4.1h-4.1z" fill="#ff0000"/>
</g>
<g clip-path="url(#cd)">
<polyline points="387.07,414.75 392.63,410.5 398.2,405 403.76,396.5 409.33,385 414.89,372 420.46,355.75 426.02,337.75 431.59,319.25 437.15,301.75 442.72,287.5 448.28,280.25 453.85,284 459.41,299.25 464.98,322.25 470.54,348.5 476.11,373 481.68,393.6 487.24,409.7 492.81,421.8 498.37,430.3 503.94,437.3 509.5,442.1 515.07,446.1 520.63,448.2 526.2,449.7 531.76,451.2 537.33,451.9 542.89,452.4 548.46,452.8 554.02,453.1 559.59,453.3 565.16,453.45 570.72,453.55 576.29,453.6 581.85,453.65 587.42,453.7 592.98,453.7 598.55,453.75 604.11,453.75 609.68,453.8 615.24,453.8 620.81,453.8 626.37,453.8 631.94,453.8 637.5,453.8 643.07,453.8 648.63,453.8 654.2,453.8" fill="none" stroke="#4848ff" stroke-width="0.7"/>
<path d="M385.02 412.7h4.1v4.1h-4.1zM390.58 408.45h4.1v4.1h-4.1zM396.15 402.95h4.1v4.1h-4.1zM401.71 394.45h4.1v4.1h-4.1zM407.28 382.95h4.1v4.1h-4.1zM412.84 369.95h4.1v4.1h-4.1zM418.41 353.7h4.1v4.1h-4.1zM423.97 335.7h4.1v4.1h-4.1zM429.54 317.2h4.1v4.1h-4.1zM435.1 299.7h4.1v4.1h-4.1zM440.67 285.45h4.1v4.1h-4.1zM446.23 278.2h4.1v4.1h-4.1zM451.8 281.95h4.1v4.1h-4.1zM457.36 297.2h4.1v4.1h-4.1zM462.93 320.2h4.1v4.1h-4.1zM468.49 346.45h4.1v4.1h-4.1zM474.06 370.95h4.1v4.1h-4.1zM479.63 391.55h4.1v4.1h-4.1zM485.19 407.65h4.1v4.1h-4.1zM490.76 419.75h4.1v4.1h-4.1zM496.32 428.25h4.1v4.1h-4.1zM501.89 435.25h4.1v4.1h-4.1zM507.45 440.05h4.1v4.1h-4.1zM513.02 444.05h4.1v4.1h-4.1zM518.58 446.15h4.1v4.1h-4.1zM524.15 447.65h4.1v4.1h-4.1zM529.71 449.15h4.1v4.1h-4.1zM535.28 449.85h4.1v4.1h-4.1zM540.84 450.35h4.1v4.1h-4.1zM546.41 450.75h4.1v4.1h-4.1zM551.97 451.05h4.1v4.1h-4.1zM557.54 451.25h4.1v4.1h-4.1zM563.11 451.4h4.1v4.1h-4.1zM568.67 451.5h4.1v4.1h-4.1zM574.24 451.55h4.1v4.1h-4.1zM579.8 451.6h4.1v4.1h-4.1zM585.37 451.65h4.1v4.1h-4.1zM590.93 451.65h4.1v4.1h-4.1zM596.5 451.7h4.1v4.1h-4.1zM602.06 451.7h4.1v4.1h-4.1zM607.63 451.75h4.1v4.1h-4.1zM613.19 451.75h4.1v4.1h-4.1zM618.76 451.75h4.1v4.1h-4.1zM624.32 451.75h4.1v4.1h-4.1zM629.89 451.75h4.1v4.1h-4.1zM635.45 451.75h4.1v4.1h-4.1zM641.02 451.75h4.1v4.1h-4.1zM646.58 451.75h4.1v4.1h-4.1zM652.15 451.75h4.1v4.1h-4.1z" fill="#0000ff"/>
</g>
<text transform="translate(354.3,353) rotate(-90)" font-size="11.5" text-anchor="middle">Normalized C"</text>
<text x="509.6" y="480.6" font-size="11.6" text-anchor="middle" font-weight="normal" font-style="normal" fill="#000" >Frequency (Hz)</text>
<text x="527.9" y="299.5" font-size="15.5" text-anchor="middle" font-weight="bold" font-style="normal" fill="#000" >(d)</text>
<rect x="558" y="283.3" width="89.5" height="26.2" fill="#000"/>
<rect x="555" y="280.3" width="89.5" height="26.2" fill="#fff" stroke="#555" stroke-width="0.8"/>
<line x1="565" y1="289" x2="585" y2="289" stroke="#ff6060" stroke-width="1"/>
<rect x="572.8" y="286.8" width="4.4" height="4.4" fill="#f00"/>
<text x="587.5" y="292.2" font-size="8.9" font-weight="bold" font-style="italic">NC_J-SSC</text>
<line x1="565" y1="299.6" x2="585" y2="299.6" stroke="#6a6aff" stroke-width="1"/>
<rect x="572.8" y="297.4" width="4.4" height="4.4" fill="#00f"/>
<text x="587.5" y="302.8" font-size="8.9" font-weight="bold" font-style="italic">NC_CV-SSC</text>
<g class="sm">
<rect x="523.5" y="329.2" width="122.90" height="84.60" fill="#fff" stroke="#444" stroke-width="0.7"/>
<line x1="523.5" y1="413.8" x2="525.3" y2="413.8" stroke="#222" stroke-width="0.6"/>
<text x="521.2" y="415.13" font-size="3.7" text-anchor="end" font-weight="normal" font-style="normal" fill="#000" >0.00</text>
<line x1="523.5" y1="401.72" x2="525.3" y2="401.72" stroke="#222" stroke-width="0.6"/>
<text x="521.2" y="403.05" font-size="3.7" text-anchor="end" font-weight="normal" font-style="normal" fill="#000" >0.05</text>
<line x1="523.5" y1="389.63" x2="525.3" y2="389.63" stroke="#222" stroke-width="0.6"/>
<text x="521.2" y="390.96" font-size="3.7" text-anchor="end" font-weight="normal" font-style="normal" fill="#000" >0.10</text>
<line x1="523.5" y1="377.55" x2="525.3" y2="377.55" stroke="#222" stroke-width="0.6"/>
<text x="521.2" y="378.88" font-size="3.7" text-anchor="end" font-weight="normal" font-style="normal" fill="#000" >0.15</text>
<line x1="523.5" y1="365.46" x2="525.3" y2="365.46" stroke="#222" stroke-width="0.6"/>
<text x="521.2" y="366.79" font-size="3.7" text-anchor="end" font-weight="normal" font-style="normal" fill="#000" >0.20</text>
<line x1="523.5" y1="353.38" x2="525.3" y2="353.38" stroke="#222" stroke-width="0.6"/>
<text x="521.2" y="354.71" font-size="3.7" text-anchor="end" font-weight="normal" font-style="normal" fill="#000" >0.25</text>
<line x1="523.5" y1="341.29" x2="525.3" y2="341.29" stroke="#222" stroke-width="0.6"/>
<text x="521.2" y="342.62" font-size="3.7" text-anchor="end" font-weight="normal" font-style="normal" fill="#000" >0.30</text>
<line x1="523.5" y1="329.21" x2="525.3" y2="329.21" stroke="#222" stroke-width="0.6"/>
<text x="521.2" y="330.54" font-size="3.7" text-anchor="end" font-weight="normal" font-style="normal" fill="#000" >0.35</text>
<line x1="523.5" y1="407.76" x2="524.6" y2="407.76" stroke="#222" stroke-width="0.48"/>
<line x1="523.5" y1="395.67" x2="524.6" y2="395.67" stroke="#222" stroke-width="0.48"/>
<line x1="523.5" y1="383.59" x2="524.6" y2="383.59" stroke="#222" stroke-width="0.48"/>
<line x1="523.5" y1="371.5" x2="524.6" y2="371.5" stroke="#222" stroke-width="0.48"/>
<line x1="523.5" y1="359.42" x2="524.6" y2="359.42" stroke="#222" stroke-width="0.48"/>
<line x1="523.5" y1="347.33" x2="524.6" y2="347.33" stroke="#222" stroke-width="0.48"/>
<line x1="523.5" y1="335.25" x2="524.6" y2="335.25" stroke="#222" stroke-width="0.48"/>
<line x1="523.5" y1="413.8" x2="523.5" y2="412" stroke="#222" stroke-width="0.6"/>
<line x1="528.79" y1="413.8" x2="528.79" y2="412.7" stroke="#222" stroke-width="0.48"/>
<line x1="531.88" y1="413.8" x2="531.88" y2="412.7" stroke="#222" stroke-width="0.48"/>
<line x1="534.07" y1="413.8" x2="534.07" y2="412.7" stroke="#222" stroke-width="0.48"/>
<line x1="535.77" y1="413.8" x2="535.77" y2="412.7" stroke="#222" stroke-width="0.48"/>
<line x1="537.16" y1="413.8" x2="537.16" y2="412.7" stroke="#222" stroke-width="0.48"/>
<line x1="538.34" y1="413.8" x2="538.34" y2="412.7" stroke="#222" stroke-width="0.48"/>
<line x1="539.36" y1="413.8" x2="539.36" y2="412.7" stroke="#222" stroke-width="0.48"/>
<line x1="540.25" y1="413.8" x2="540.25" y2="412.7" stroke="#222" stroke-width="0.48"/>
<line x1="541.06" y1="413.8" x2="541.06" y2="412" stroke="#222" stroke-width="0.6"/>
<line x1="546.34" y1="413.8" x2="546.34" y2="412.7" stroke="#222" stroke-width="0.48"/>
<line x1="549.43" y1="413.8" x2="549.43" y2="412.7" stroke="#222" stroke-width="0.48"/>
<line x1="551.63" y1="413.8" x2="551.63" y2="412.7" stroke="#222" stroke-width="0.48"/>
<line x1="553.33" y1="413.8" x2="553.33" y2="412.7" stroke="#222" stroke-width="0.48"/>
<line x1="554.72" y1="413.8" x2="554.72" y2="412.7" stroke="#222" stroke-width="0.48"/>
<line x1="555.89" y1="413.8" x2="555.89" y2="412.7" stroke="#222" stroke-width="0.48"/>
<line x1="556.91" y1="413.8" x2="556.91" y2="412.7" stroke="#222" stroke-width="0.48"/>
<line x1="557.81" y1="413.8" x2="557.81" y2="412.7" stroke="#222" stroke-width="0.48"/>
<line x1="558.61" y1="413.8" x2="558.61" y2="412" stroke="#222" stroke-width="0.6"/>
<line x1="563.9" y1="413.8" x2="563.9" y2="412.7" stroke="#222" stroke-width="0.48"/>
<line x1="566.99" y1="413.8" x2="566.99" y2="412.7" stroke="#222" stroke-width="0.48"/>
<line x1="569.18" y1="413.8" x2="569.18" y2="412.7" stroke="#222" stroke-width="0.48"/>
<line x1="570.89" y1="413.8" x2="570.89" y2="412.7" stroke="#222" stroke-width="0.48"/>
<line x1="572.28" y1="413.8" x2="572.28" y2="412.7" stroke="#222" stroke-width="0.48"/>
<line x1="573.45" y1="413.8" x2="573.45" y2="412.7" stroke="#222" stroke-width="0.48"/>
<line x1="574.47" y1="413.8" x2="574.47" y2="412.7" stroke="#222" stroke-width="0.48"/>
<line x1="575.37" y1="413.8" x2="575.37" y2="412.7" stroke="#222" stroke-width="0.48"/>
<line x1="576.17" y1="413.8" x2="576.17" y2="412" stroke="#222" stroke-width="0.6"/>
<line x1="581.46" y1="413.8" x2="581.46" y2="412.7" stroke="#222" stroke-width="0.48"/>
<line x1="584.55" y1="413.8" x2="584.55" y2="412.7" stroke="#222" stroke-width="0.48"/>
<line x1="586.74" y1="413.8" x2="586.74" y2="412.7" stroke="#222" stroke-width="0.48"/>
<line x1="588.44" y1="413.8" x2="588.44" y2="412.7" stroke="#222" stroke-width="0.48"/>
<line x1="589.83" y1="413.8" x2="589.83" y2="412.7" stroke="#222" stroke-width="0.48"/>
<line x1="591.01" y1="413.8" x2="591.01" y2="412.7" stroke="#222" stroke-width="0.48"/>
<line x1="592.03" y1="413.8" x2="592.03" y2="412.7" stroke="#222" stroke-width="0.48"/>
<line x1="592.93" y1="413.8" x2="592.93" y2="412.7" stroke="#222" stroke-width="0.48"/>
<line x1="593.73" y1="413.8" x2="593.73" y2="412" stroke="#222" stroke-width="0.6"/>
<line x1="599.01" y1="413.8" x2="599.01" y2="412.7" stroke="#222" stroke-width="0.48"/>
<line x1="602.11" y1="413.8" x2="602.11" y2="412.7" stroke="#222" stroke-width="0.48"/>
<line x1="604.3" y1="413.8" x2="604.3" y2="412.7" stroke="#222" stroke-width="0.48"/>
<line x1="606" y1="413.8" x2="606" y2="412.7" stroke="#222" stroke-width="0.48"/>
<line x1="607.39" y1="413.8" x2="607.39" y2="412.7" stroke="#222" stroke-width="0.48"/>
<line x1="608.57" y1="413.8" x2="608.57" y2="412.7" stroke="#222" stroke-width="0.48"/>
<line x1="609.58" y1="413.8" x2="609.58" y2="412.7" stroke="#222" stroke-width="0.48"/>
<line x1="610.48" y1="413.8" x2="610.48" y2="412.7" stroke="#222" stroke-width="0.48"/>
<line x1="611.29" y1="413.8" x2="611.29" y2="412" stroke="#222" stroke-width="0.6"/>
<line x1="616.57" y1="413.8" x2="616.57" y2="412.7" stroke="#222" stroke-width="0.48"/>
<line x1="619.66" y1="413.8" x2="619.66" y2="412.7" stroke="#222" stroke-width="0.48"/>
<line x1="621.86" y1="413.8" x2="621.86" y2="412.7" stroke="#222" stroke-width="0.48"/>
<line x1="623.56" y1="413.8" x2="623.56" y2="412.7" stroke="#222" stroke-width="0.48"/>
<line x1="624.95" y1="413.8" x2="624.95" y2="412.7" stroke="#222" stroke-width="0.48"/>
<line x1="626.12" y1="413.8" x2="626.12" y2="412.7" stroke="#222" stroke-width="0.48"/>
<line x1="627.14" y1="413.8" x2="627.14" y2="412.7" stroke="#222" stroke-width="0.48"/>
<line x1="628.04" y1="413.8" x2="628.04" y2="412.7" stroke="#222" stroke-width="0.48"/>
<line x1="628.84" y1="413.8" x2="628.84" y2="412" stroke="#222" stroke-width="0.6"/>
<line x1="634.13" y1="413.8" x2="634.13" y2="412.7" stroke="#222" stroke-width="0.48"/>
<line x1="637.22" y1="413.8" x2="637.22" y2="412.7" stroke="#222" stroke-width="0.48"/>
<line x1="639.41" y1="413.8" x2="639.41" y2="412.7" stroke="#222" stroke-width="0.48"/>
<line x1="641.11" y1="413.8" x2="641.11" y2="412.7" stroke="#222" stroke-width="0.48"/>
<line x1="642.5" y1="413.8" x2="642.5" y2="412.7" stroke="#222" stroke-width="0.48"/>
<line x1="643.68" y1="413.8" x2="643.68" y2="412.7" stroke="#222" stroke-width="0.48"/>
<line x1="644.7" y1="413.8" x2="644.7" y2="412.7" stroke="#222" stroke-width="0.48"/>
<line x1="645.6" y1="413.8" x2="645.6" y2="412.7" stroke="#222" stroke-width="0.48"/>
<line x1="646.4" y1="413.8" x2="646.4" y2="412" stroke="#222" stroke-width="0.6"/>
<text x="523.5" y="419.3" font-size="3.9" text-anchor="middle">10<tspan font-size="2.8" dy="-1.75">-2</tspan></text>
<text x="541.06" y="419.3" font-size="3.9" text-anchor="middle">10<tspan font-size="2.8" dy="-1.75">-1</tspan></text>
<text x="558.61" y="419.3" font-size="3.9" text-anchor="middle">10<tspan font-size="2.8" dy="-1.75">0</tspan></text>
<text x="576.17" y="419.3" font-size="3.9" text-anchor="middle">10<tspan font-size="2.8" dy="-1.75">1</tspan></text>
<text x="593.73" y="419.3" font-size="3.9" text-anchor="middle">10<tspan font-size="2.8" dy="-1.75">2</tspan></text>
<text x="611.29" y="419.3" font-size="3.9" text-anchor="middle">10<tspan font-size="2.8" dy="-1.75">3</tspan></text>
<text x="628.84" y="419.3" font-size="3.9" text-anchor="middle">10<tspan font-size="2.8" dy="-1.75">4</tspan></text>
<text x="646.4" y="419.3" font-size="3.9" text-anchor="middle">10<tspan font-size="2.8" dy="-1.75">5</tspan></text>
<g clip-path="url(#cdi)">
<polyline points="526.01,391.93 528.52,392.6 531.02,391.93 533.53,390.83 536.04,389.95 538.55,387.19 541.06,383.21 543.57,378.13 546.07,372.06 548.58,364.66 551.09,357.15 553.6,347.76 556.11,340.58 558.61,336.83 561.12,337.93 563.63,343.79 566.14,353.28 568.65,363.88 571.16,374.71 573.66,383.98 576.17,391.32 578.68,397.1 581.19,401.65 583.7,404.97 586.2,407.26 588.71,409.12 591.22,410.49 593.73,411.41 596.24,412.08 598.74,412.47 601.25,412.78 603.76,413 606.27,413.14 608.78,413.23 611.29,413.29 613.79,413.34 616.3,413.36 618.81,413.38 621.32,413.4 623.83,413.4 626.33,413.42 628.84,413.42 631.35,413.45 633.86,413.45 636.37,413.45 638.88,413.45 641.38,413.45 643.89,413.45 646.4,413.45" fill="none" stroke="#ff4848" stroke-width="0.6"/>
<path d="M525.06 390.98h1.9v1.9h-1.9zM527.57 391.65h1.9v1.9h-1.9zM530.07 390.98h1.9v1.9h-1.9zM532.58 389.88h1.9v1.9h-1.9zM535.09 389h1.9v1.9h-1.9zM537.6 386.24h1.9v1.9h-1.9zM540.11 382.26h1.9v1.9h-1.9zM542.62 377.18h1.9v1.9h-1.9zM545.12 371.11h1.9v1.9h-1.9zM547.63 363.71h1.9v1.9h-1.9zM550.14 356.2h1.9v1.9h-1.9zM552.65 346.81h1.9v1.9h-1.9zM555.16 339.63h1.9v1.9h-1.9zM557.66 335.88h1.9v1.9h-1.9zM560.17 336.98h1.9v1.9h-1.9zM562.68 342.84h1.9v1.9h-1.9zM565.19 352.33h1.9v1.9h-1.9zM567.7 362.93h1.9v1.9h-1.9zM570.21 373.76h1.9v1.9h-1.9zM572.71 383.03h1.9v1.9h-1.9zM575.22 390.37h1.9v1.9h-1.9zM577.73 396.15h1.9v1.9h-1.9zM580.24 400.7h1.9v1.9h-1.9zM582.75 404.02h1.9v1.9h-1.9zM585.25 406.31h1.9v1.9h-1.9zM587.76 408.17h1.9v1.9h-1.9zM590.27 409.54h1.9v1.9h-1.9zM592.78 410.46h1.9v1.9h-1.9zM595.29 411.13h1.9v1.9h-1.9zM597.79 411.52h1.9v1.9h-1.9zM600.3 411.83h1.9v1.9h-1.9zM602.81 412.05h1.9v1.9h-1.9zM605.32 412.19h1.9v1.9h-1.9zM607.83 412.28h1.9v1.9h-1.9zM610.34 412.34h1.9v1.9h-1.9zM612.84 412.39h1.9v1.9h-1.9zM615.35 412.41h1.9v1.9h-1.9zM617.86 412.43h1.9v1.9h-1.9zM620.37 412.45h1.9v1.9h-1.9zM622.88 412.45h1.9v1.9h-1.9zM625.38 412.47h1.9v1.9h-1.9zM627.89 412.47h1.9v1.9h-1.9zM630.4 412.5h1.9v1.9h-1.9zM632.91 412.5h1.9v1.9h-1.9zM635.42 412.5h1.9v1.9h-1.9zM637.93 412.5h1.9v1.9h-1.9zM640.43 412.5h1.9v1.9h-1.9zM642.94 412.5h1.9v1.9h-1.9zM645.45 412.5h1.9v1.9h-1.9z" fill="#ff0000"/>
</g>
<g clip-path="url(#cdi)">
<polyline points="526.01,400.55 528.52,399.13 531.02,397.3 533.53,394.46 536.04,390.63 538.55,386.3 541.06,380.88 543.57,374.88 546.07,368.71 548.58,362.88 551.09,358.13 553.6,355.71 556.11,356.96 558.61,362.04 561.12,369.71 563.63,378.46 566.14,386.63 568.65,393.5 571.16,398.86 573.66,402.9 576.17,405.73 578.68,408.07 581.19,409.67 583.7,411 586.2,411.7 588.71,412.2 591.22,412.7 593.73,412.93 596.24,413.1 598.74,413.23 601.25,413.33 603.76,413.4 606.27,413.45 608.78,413.48 611.29,413.5 613.79,413.52 616.3,413.53 618.81,413.53 621.32,413.55 623.83,413.55 626.33,413.57 628.84,413.57 631.35,413.57 633.86,413.57 636.37,413.57 638.88,413.57 641.38,413.57 643.89,413.57 646.4,413.57" fill="none" stroke="#4848ff" stroke-width="0.6"/>
<path d="M525.06 399.6h1.9v1.9h-1.9zM527.57 398.18h1.9v1.9h-1.9zM530.07 396.35h1.9v1.9h-1.9zM532.58 393.51h1.9v1.9h-1.9zM535.09 389.68h1.9v1.9h-1.9zM537.6 385.35h1.9v1.9h-1.9zM540.11 379.93h1.9v1.9h-1.9zM542.62 373.93h1.9v1.9h-1.9zM545.12 367.76h1.9v1.9h-1.9zM547.63 361.93h1.9v1.9h-1.9zM550.14 357.18h1.9v1.9h-1.9zM552.65 354.76h1.9v1.9h-1.9zM555.16 356.01h1.9v1.9h-1.9zM557.66 361.09h1.9v1.9h-1.9zM560.17 368.76h1.9v1.9h-1.9zM562.68 377.51h1.9v1.9h-1.9zM565.19 385.68h1.9v1.9h-1.9zM567.7 392.55h1.9v1.9h-1.9zM570.21 397.91h1.9v1.9h-1.9zM572.71 401.95h1.9v1.9h-1.9zM575.22 404.78h1.9v1.9h-1.9zM577.73 407.12h1.9v1.9h-1.9zM580.24 408.72h1.9v1.9h-1.9zM582.75 410.05h1.9v1.9h-1.9zM585.25 410.75h1.9v1.9h-1.9zM587.76 411.25h1.9v1.9h-1.9zM590.27 411.75h1.9v1.9h-1.9zM592.78 411.98h1.9v1.9h-1.9zM595.29 412.15h1.9v1.9h-1.9zM597.79 412.28h1.9v1.9h-1.9zM600.3 412.38h1.9v1.9h-1.9zM602.81 412.45h1.9v1.9h-1.9zM605.32 412.5h1.9v1.9h-1.9zM607.83 412.53h1.9v1.9h-1.9zM610.34 412.55h1.9v1.9h-1.9zM612.84 412.57h1.9v1.9h-1.9zM615.35 412.58h1.9v1.9h-1.9zM617.86 412.58h1.9v1.9h-1.9zM620.37 412.6h1.9v1.9h-1.9zM622.88 412.6h1.9v1.9h-1.9zM625.38 412.62h1.9v1.9h-1.9zM627.89 412.62h1.9v1.9h-1.9zM630.4 412.62h1.9v1.9h-1.9zM632.91 412.62h1.9v1.9h-1.9zM635.42 412.62h1.9v1.9h-1.9zM637.93 412.62h1.9v1.9h-1.9zM640.43 412.62h1.9v1.9h-1.9zM642.94 412.62h1.9v1.9h-1.9zM645.45 412.62h1.9v1.9h-1.9z" fill="#0000ff"/>
</g>
<text transform="translate(511.3,364.7) rotate(-90)" font-size="5.7" text-anchor="middle">C" (mF)</text>
<text x="581" y="426" font-size="5.8" text-anchor="middle" font-weight="normal" font-style="normal" fill="#000" >Frequency (Hz)</text>
</g>
</svg>
</body></html>
